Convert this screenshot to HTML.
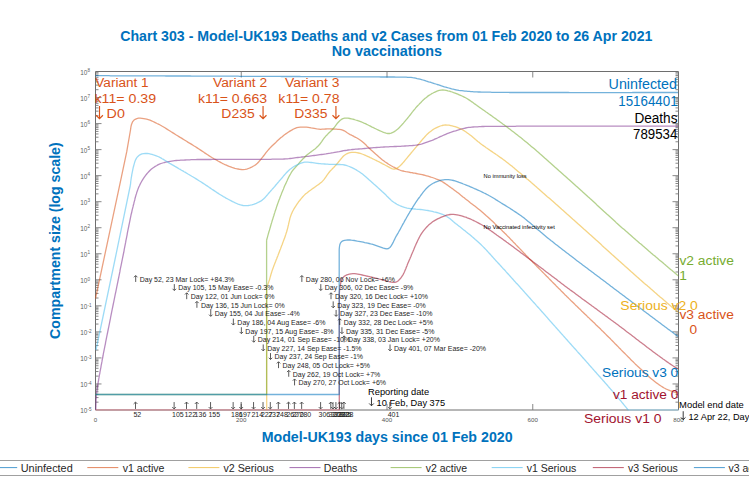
<!DOCTYPE html><html><head><meta charset="utf-8"><style>html,body{margin:0;padding:0;background:#fff;width:749px;height:478px;overflow:hidden}svg{display:block}text{font-family:"Liberation Sans",sans-serif}</style></head><body><svg width="749" height="478" viewBox="0 0 749 478"><text x="120.22" y="41.00" font-size="14.4" font-weight="bold" fill="#0072BD" textLength="532.17" lengthAdjust="spacingAndGlyphs">Chart 303 - Model-UK193 Deaths and v2 Cases from 01 Feb 2020 to 26 Apr 2021</text><text x="331.74" y="56.40" font-size="14.4" font-weight="bold" fill="#0072BD" textLength="110.35" lengthAdjust="spacingAndGlyphs">No vaccinations</text><text transform="rotate(-90)" x="-338.88" y="59.70" font-size="14.3" font-weight="bold" fill="#0072BD" textLength="196.59" lengthAdjust="spacingAndGlyphs">Compartment size (log scale)</text><text x="261.65" y="442.30" font-size="14.3" font-weight="bold" fill="#0072BD" textLength="250.93" lengthAdjust="spacingAndGlyphs">Model-UK193 days since 01 Feb 2020</text><path d="M95.5,71.5H678.5V410.0H95.5Z" fill="none" stroke="#6e6e6e" stroke-width="1"/><path d="M241.25,410.0v-6M241.25,71.5v6M387.00,410.0v-6M387.00,71.5v6M532.75,410.0v-6M532.75,71.5v6M95.5,402.16h3M678.5,402.16h-3M95.5,397.58h3M678.5,397.58h-3M95.5,394.32h3M678.5,394.32h-3M95.5,391.80h3M678.5,391.80h-3M95.5,389.74h3M678.5,389.74h-3M95.5,387.99h3M678.5,387.99h-3M95.5,386.48h3M678.5,386.48h-3M95.5,385.15h3M678.5,385.15h-3M95.5,383.96h6M678.5,383.96h-6M95.5,376.12h3M678.5,376.12h-3M95.5,371.54h3M678.5,371.54h-3M95.5,368.28h3M678.5,368.28h-3M95.5,365.76h3M678.5,365.76h-3M95.5,363.70h3M678.5,363.70h-3M95.5,361.96h3M678.5,361.96h-3M95.5,360.45h3M678.5,360.45h-3M95.5,359.11h3M678.5,359.11h-3M95.5,357.92h6M678.5,357.92h-6M95.5,350.08h3M678.5,350.08h-3M95.5,345.50h3M678.5,345.50h-3M95.5,342.25h3M678.5,342.25h-3M95.5,339.72h3M678.5,339.72h-3M95.5,337.66h3M678.5,337.66h-3M95.5,335.92h3M678.5,335.92h-3M95.5,334.41h3M678.5,334.41h-3M95.5,333.08h3M678.5,333.08h-3M95.5,331.88h6M678.5,331.88h-6M95.5,324.05h3M678.5,324.05h-3M95.5,319.46h3M678.5,319.46h-3M95.5,316.21h3M678.5,316.21h-3M95.5,313.68h3M678.5,313.68h-3M95.5,311.62h3M678.5,311.62h-3M95.5,309.88h3M678.5,309.88h-3M95.5,308.37h3M678.5,308.37h-3M95.5,307.04h3M678.5,307.04h-3M95.5,305.85h6M678.5,305.85h-6M95.5,298.01h3M678.5,298.01h-3M95.5,293.42h3M678.5,293.42h-3M95.5,290.17h3M678.5,290.17h-3M95.5,287.65h3M678.5,287.65h-3M95.5,285.58h3M678.5,285.58h-3M95.5,283.84h3M678.5,283.84h-3M95.5,282.33h3M678.5,282.33h-3M95.5,281.00h3M678.5,281.00h-3M95.5,279.81h6M678.5,279.81h-6M95.5,271.97h3M678.5,271.97h-3M95.5,267.38h3M678.5,267.38h-3M95.5,264.13h3M678.5,264.13h-3M95.5,261.61h3M678.5,261.61h-3M95.5,259.55h3M678.5,259.55h-3M95.5,257.80h3M678.5,257.80h-3M95.5,256.29h3M678.5,256.29h-3M95.5,254.96h3M678.5,254.96h-3M95.5,253.77h6M678.5,253.77h-6M95.5,245.93h3M678.5,245.93h-3M95.5,241.35h3M678.5,241.35h-3M95.5,238.09h3M678.5,238.09h-3M95.5,235.57h3M678.5,235.57h-3M95.5,233.51h3M678.5,233.51h-3M95.5,231.76h3M678.5,231.76h-3M95.5,230.25h3M678.5,230.25h-3M95.5,228.92h3M678.5,228.92h-3M95.5,227.73h6M678.5,227.73h-6M95.5,219.89h3M678.5,219.89h-3M95.5,215.31h3M678.5,215.31h-3M95.5,212.05h3M678.5,212.05h-3M95.5,209.53h3M678.5,209.53h-3M95.5,207.47h3M678.5,207.47h-3M95.5,205.73h3M678.5,205.73h-3M95.5,204.22h3M678.5,204.22h-3M95.5,202.88h3M678.5,202.88h-3M95.5,201.69h6M678.5,201.69h-6M95.5,193.85h3M678.5,193.85h-3M95.5,189.27h3M678.5,189.27h-3M95.5,186.02h3M678.5,186.02h-3M95.5,183.49h3M678.5,183.49h-3M95.5,181.43h3M678.5,181.43h-3M95.5,179.69h3M678.5,179.69h-3M95.5,178.18h3M678.5,178.18h-3M95.5,176.85h3M678.5,176.85h-3M95.5,175.65h6M678.5,175.65h-6M95.5,167.82h3M678.5,167.82h-3M95.5,163.23h3M678.5,163.23h-3M95.5,159.98h3M678.5,159.98h-3M95.5,157.45h3M678.5,157.45h-3M95.5,155.39h3M678.5,155.39h-3M95.5,153.65h3M678.5,153.65h-3M95.5,152.14h3M678.5,152.14h-3M95.5,150.81h3M678.5,150.81h-3M95.5,149.62h6M678.5,149.62h-6M95.5,141.78h3M678.5,141.78h-3M95.5,137.19h3M678.5,137.19h-3M95.5,133.94h3M678.5,133.94h-3M95.5,131.42h3M678.5,131.42h-3M95.5,129.35h3M678.5,129.35h-3M95.5,127.61h3M678.5,127.61h-3M95.5,126.10h3M678.5,126.10h-3M95.5,124.77h3M678.5,124.77h-3M95.5,123.58h6M678.5,123.58h-6M95.5,115.74h3M678.5,115.74h-3M95.5,111.15h3M678.5,111.15h-3M95.5,107.90h3M678.5,107.90h-3M95.5,105.38h3M678.5,105.38h-3M95.5,103.32h3M678.5,103.32h-3M95.5,101.57h3M678.5,101.57h-3M95.5,100.06h3M678.5,100.06h-3M95.5,98.73h3M678.5,98.73h-3M95.5,97.54h6M678.5,97.54h-6M95.5,89.70h3M678.5,89.70h-3M95.5,85.11h3M678.5,85.11h-3M95.5,81.86h3M678.5,81.86h-3M95.5,79.34h3M678.5,79.34h-3M95.5,77.28h3M678.5,77.28h-3M95.5,75.53h3M678.5,75.53h-3M95.5,74.02h3M678.5,74.02h-3M95.5,72.69h3M678.5,72.69h-3" fill="none" stroke="#7a7a7a" stroke-width="0.9"/><text x="95.50" y="422" text-anchor="middle" font-size="6.2" fill="#555">0</text><text x="241.25" y="422" text-anchor="middle" font-size="6.2" fill="#555">200</text><text x="387.00" y="422" text-anchor="middle" font-size="6.2" fill="#555">400</text><text x="532.75" y="422" text-anchor="middle" font-size="6.2" fill="#555">600</text><text x="678.50" y="422" text-anchor="middle" font-size="6.2" fill="#555">800</text><text x="87.3" y="413.40" text-anchor="end" font-size="6.4" fill="#606060">10</text><text x="87.6" y="410.70" font-size="4.6" fill="#606060">-5</text><text x="87.3" y="387.36" text-anchor="end" font-size="6.4" fill="#606060">10</text><text x="87.6" y="384.66" font-size="4.6" fill="#606060">-4</text><text x="87.3" y="361.32" text-anchor="end" font-size="6.4" fill="#606060">10</text><text x="87.6" y="358.62" font-size="4.6" fill="#606060">-3</text><text x="87.3" y="335.28" text-anchor="end" font-size="6.4" fill="#606060">10</text><text x="87.6" y="332.58" font-size="4.6" fill="#606060">-2</text><text x="87.3" y="309.25" text-anchor="end" font-size="6.4" fill="#606060">10</text><text x="87.6" y="306.55" font-size="4.6" fill="#606060">-1</text><text x="87.3" y="283.21" text-anchor="end" font-size="6.4" fill="#606060">10</text><text x="87.6" y="280.51" font-size="4.6" fill="#606060">0</text><text x="87.3" y="257.17" text-anchor="end" font-size="6.4" fill="#606060">10</text><text x="87.6" y="254.47" font-size="4.6" fill="#606060">1</text><text x="87.3" y="231.13" text-anchor="end" font-size="6.4" fill="#606060">10</text><text x="87.6" y="228.43" font-size="4.6" fill="#606060">2</text><text x="87.3" y="205.09" text-anchor="end" font-size="6.4" fill="#606060">10</text><text x="87.6" y="202.39" font-size="4.6" fill="#606060">3</text><text x="87.3" y="179.05" text-anchor="end" font-size="6.4" fill="#606060">10</text><text x="87.6" y="176.35" font-size="4.6" fill="#606060">4</text><text x="87.3" y="153.02" text-anchor="end" font-size="6.4" fill="#606060">10</text><text x="87.6" y="150.32" font-size="4.6" fill="#606060">5</text><text x="87.3" y="126.98" text-anchor="end" font-size="6.4" fill="#606060">10</text><text x="87.6" y="124.28" font-size="4.6" fill="#606060">6</text><text x="87.3" y="100.94" text-anchor="end" font-size="6.4" fill="#606060">10</text><text x="87.6" y="98.24" font-size="4.6" fill="#606060">7</text><text x="87.3" y="74.90" text-anchor="end" font-size="6.4" fill="#606060">10</text><text x="87.6" y="72.20" font-size="4.6" fill="#606060">8</text><defs><clipPath id="pc"><rect x="95" y="71" width="584" height="339.5"/></clipPath></defs><g clip-path="url(#pc)"><path d="M95.5,75.7 L97.0,75.7 L98.5,75.7 L100.0,75.7 L101.5,75.7 L103.0,75.7 L104.5,75.7 L106.0,75.7 L107.5,75.7 L109.0,75.7 L110.5,75.8 L112.0,75.8 L113.5,75.8 L115.0,75.8 L116.5,75.8 L118.0,75.8 L119.5,75.8 L121.0,75.8 L122.5,75.8 L124.0,75.8 L125.5,75.8 L127.0,75.8 L128.5,75.8 L130.0,75.8 L131.5,75.8 L133.0,75.8 L134.5,75.8 L136.0,75.8 L137.5,75.8 L139.0,75.9 L140.5,75.9 L142.0,75.9 L143.5,75.9 L145.0,75.9 L146.5,75.9 L148.0,75.9 L149.5,75.9 L151.0,75.9 L152.5,75.9 L154.0,75.9 L155.5,75.9 L157.0,75.9 L158.5,75.9 L160.0,75.9 L161.5,75.9 L163.0,75.9 L164.5,75.9 L166.0,76.0 L167.5,76.0 L169.0,76.0 L170.5,76.0 L172.0,76.0 L173.5,76.0 L175.0,76.0 L176.6,76.0 L178.1,76.0 L179.6,76.0 L181.1,76.0 L182.6,76.0 L184.1,76.0 L185.6,76.0 L187.1,76.0 L188.6,76.0 L190.1,76.0 L191.6,76.1 L193.1,76.1 L194.6,76.1 L196.1,76.1 L197.6,76.1 L199.1,76.1 L200.6,76.1 L202.1,76.1 L203.6,76.1 L205.1,76.1 L206.6,76.1 L208.1,76.1 L209.6,76.1 L211.1,76.1 L212.6,76.1 L214.1,76.1 L215.6,76.1 L217.1,76.2 L218.6,76.2 L220.1,76.2 L221.6,76.2 L223.1,76.2 L224.6,76.2 L226.1,76.2 L227.6,76.2 L229.1,76.2 L230.6,76.2 L232.1,76.2 L233.6,76.2 L235.1,76.2 L236.6,76.2 L238.1,76.2 L239.6,76.3 L241.1,76.3 L242.6,76.3 L244.1,76.3 L245.6,76.3 L247.1,76.3 L248.6,76.3 L250.1,76.3 L251.6,76.3 L253.1,76.3 L254.6,76.3 L256.1,76.3 L257.6,76.3 L259.1,76.3 L260.6,76.3 L262.1,76.4 L263.6,76.4 L265.1,76.4 L266.6,76.4 L268.1,76.4 L269.6,76.4 L271.1,76.4 L272.6,76.4 L274.1,76.4 L275.6,76.4 L277.1,76.4 L278.6,76.4 L280.1,76.4 L281.6,76.5 L283.1,76.5 L284.6,76.5 L286.1,76.5 L287.6,76.5 L289.1,76.5 L290.6,76.5 L292.1,76.5 L293.6,76.5 L295.1,76.5 L296.6,76.5 L298.1,76.5 L299.6,76.5 L301.1,76.6 L302.6,76.6 L304.1,76.6 L305.6,76.6 L307.1,76.6 L308.6,76.6 L310.1,76.6 L311.6,76.6 L313.1,76.6 L314.6,76.6 L316.1,76.6 L317.6,76.6 L319.1,76.7 L320.6,76.7 L322.1,76.7 L323.6,76.7 L325.1,76.7 L326.6,76.7 L328.1,76.7 L329.6,76.7 L331.1,76.7 L332.6,76.7 L334.1,76.7 L335.6,76.7 L337.1,76.8 L338.7,76.8 L340.2,76.8 L341.7,76.8 L343.2,76.8 L344.7,76.8 L346.2,76.8 L347.7,76.8 L349.2,76.8 L350.7,76.8 L352.2,76.8 L353.7,76.8 L355.2,76.9 L356.7,76.9 L358.2,76.9 L359.7,76.9 L361.2,76.9 L362.7,76.9 L364.2,76.9 L365.7,76.9 L367.2,76.9 L368.7,76.9 L370.2,76.9 L371.7,76.9 L373.2,76.9 L374.7,76.9 L376.2,76.9 L377.7,76.9 L379.2,76.9 L380.7,77.0 L382.2,77.0 L383.7,77.0 L385.2,77.0 L386.7,77.0 L388.2,77.0 L389.7,77.0 L391.2,77.0 L392.7,77.0 L394.2,77.0 L395.7,77.1 L397.2,77.1 L398.7,77.1 L400.2,77.1 L401.7,77.1 L403.2,77.2 L404.7,77.2 L406.2,77.2 L407.7,77.3 L409.2,77.3 L410.9,77.4 L412.7,77.7 L414.1,77.9 L415.6,78.2 L417.1,78.6 L418.5,78.9 L420.0,79.2 L421.5,79.6 L422.9,80.0 L424.3,80.4 L425.8,80.9 L427.2,81.3 L428.6,81.8 L430.1,82.2 L431.5,82.7 L432.9,83.1 L434.4,83.6 L435.8,84.0 L437.2,84.5 L438.7,84.9 L440.1,85.4 L441.5,85.9 L442.9,86.3 L444.4,86.8 L445.8,87.2 L447.3,87.6 L448.7,88.0 L450.2,88.4 L451.6,88.8 L453.1,89.1 L454.5,89.5 L456.0,89.8 L457.5,90.1 L458.9,90.4 L460.4,90.6 L461.9,90.7 L463.4,90.9 L464.9,91.1 L466.4,91.2 L467.9,91.3 L469.4,91.4 L470.9,91.6 L472.4,91.7 L473.9,91.8 L475.4,91.8 L476.9,91.9 L478.4,92.0 L479.9,92.0 L481.4,92.1 L482.9,92.1 L484.4,92.1 L485.9,92.2 L487.4,92.2 L488.9,92.2 L490.4,92.2 L491.9,92.3 L493.4,92.3 L494.9,92.3 L496.4,92.3 L497.9,92.3 L499.4,92.4 L500.9,92.4 L502.4,92.4 L503.9,92.4 L505.4,92.4 L506.9,92.4 L508.4,92.4 L509.9,92.5 L511.4,92.5 L512.9,92.5 L514.4,92.5 L515.9,92.5 L517.4,92.5 L518.9,92.5 L520.4,92.5 L521.9,92.5 L523.4,92.5 L524.9,92.5 L526.4,92.5 L527.9,92.5 L529.4,92.5 L530.9,92.5 L532.4,92.5 L533.9,92.5 L535.4,92.5 L536.9,92.5 L538.4,92.5 L539.9,92.5 L541.4,92.5 L542.9,92.5 L544.4,92.5 L545.9,92.5 L547.4,92.5 L548.9,92.5 L550.4,92.5 L551.9,92.5 L553.4,92.5 L554.9,92.5 L556.4,92.5 L557.9,92.5 L559.4,92.5 L560.9,92.5 L562.4,92.5 L563.9,92.5 L565.4,92.5 L566.9,92.5 L568.4,92.5 L569.9,92.6 L571.4,92.6 L572.9,92.6 L574.4,92.6 L575.9,92.6 L577.4,92.6 L578.9,92.6 L580.4,92.6 L581.9,92.6 L583.4,92.6 L584.9,92.6 L586.4,92.6 L587.9,92.6 L589.4,92.6 L590.9,92.6 L592.4,92.6 L593.9,92.6 L595.4,92.6 L596.9,92.6 L598.5,92.6 L600.0,92.6 L601.5,92.6 L603.0,92.6 L604.5,92.6 L606.0,92.6 L607.5,92.6 L609.0,92.6 L610.5,92.6 L612.0,92.6 L613.5,92.6 L615.0,92.6 L616.5,92.6 L618.0,92.6 L619.5,92.6 L621.0,92.6 L622.5,92.6 L624.0,92.6 L625.5,92.6 L627.0,92.6 L628.5,92.6 L630.0,92.6 L631.5,92.6 L633.0,92.5 L634.5,92.5 L636.0,92.5 L637.5,92.5 L639.0,92.5 L640.5,92.5 L642.0,92.5 L643.5,92.5 L645.0,92.5 L646.5,92.5 L648.0,92.5 L649.5,92.5 L651.0,92.5 L652.5,92.5 L654.0,92.5 L655.5,92.5 L657.0,92.5 L658.5,92.5 L660.0,92.5 L661.5,92.5 L663.0,92.5 L664.5,92.5 L666.0,92.5 L667.5,92.5 L669.0,92.5 L670.5,92.5 L672.0,92.5 L673.5,92.5 L675.0,92.5 L676.5,92.5 L678.0,92.5 L678.0,92.5" fill="none" stroke="#0072BD" stroke-width="1.3" stroke-opacity="0.55" stroke-linejoin="round"/><path d="M95.5,298.5 L120.0,183.7 L126.7,151.9 L130.5,130.0M130.5,130.0 L130.7,128.3 L131.0,126.5 L131.4,124.8 L132.0,123.2 L132.7,121.6 L133.8,120.3 L135.2,119.3 L136.8,118.6 L138.5,118.2 L140.2,118.2 L142.0,118.3 L143.7,118.6 L145.2,118.9 L146.6,119.2 L148.3,119.7 L150.0,120.2 L151.6,120.9 L153.0,121.5 L154.3,122.1 L155.7,122.8 L157.0,123.5 L158.4,124.1 L159.7,124.8 L161.0,125.5 L162.3,126.3 L163.6,127.0 L164.9,127.8 L166.2,128.6 L167.4,129.4 L168.7,130.2 L170.0,131.0 L171.2,131.8 L172.5,132.6 L173.8,133.4 L175.1,134.2 L176.3,135.0 L177.6,135.8 L178.9,136.6 L180.2,137.4 L181.5,138.1 L182.7,138.9 L184.0,139.7 L185.3,140.5 L186.6,141.3 L187.8,142.1 L189.1,142.9 L190.4,143.6 L191.7,144.4 L193.0,145.2 L194.2,146.0 L195.5,146.8 L196.8,147.6 L198.0,148.4 L199.3,149.2 L200.6,150.1 L201.8,150.9 L203.1,151.7 L204.3,152.6 L205.5,153.4 L206.8,154.2 L208.0,155.0 L209.3,155.9 L210.6,156.7 L211.9,157.5 L213.1,158.2 L214.4,159.0 L215.8,159.7 L217.1,160.4 L218.4,161.2 L219.7,161.9 L221.0,162.6 L222.3,163.3 L223.7,164.0 L225.0,164.6 L226.4,165.2 L227.8,165.8 L229.2,166.4 L230.6,166.9 L232.0,167.4 L233.4,167.8 L234.9,168.3 L236.3,168.7 L238.0,169.0 L239.8,169.3 L241.5,169.5 L243.2,169.6 L245.0,169.4 L246.7,169.1 L248.4,168.5 L250.0,167.9 L251.6,167.2 L253.1,166.3 L254.6,165.5 L256.0,164.4 L257.4,163.3 L258.6,162.0 L259.7,160.7 L260.7,159.6 L261.6,158.4 L262.6,157.2 L263.5,156.0 L264.4,154.8 L265.3,153.6 L266.2,152.4 L267.1,151.3 L268.1,150.1 L269.1,149.0 L270.1,147.9 L271.2,146.8 L272.2,145.8 L273.3,144.7 L274.4,143.7 L275.5,142.7 L276.6,141.6 L277.7,140.6 L278.8,139.6 L279.9,138.6 L281.0,137.6 L282.2,136.7 L283.3,135.7 L284.5,134.8 L285.7,133.9 L287.0,133.1 L288.2,132.2 L289.5,131.4 L290.8,130.6 L292.1,129.9 L293.6,129.0 L295.2,128.3 L296.8,127.7 L298.5,127.4 L300.3,127.2 L301.8,127.2 L303.3,127.1 L304.8,127.2 L306.5,127.2 L308.3,127.4 L309.7,127.6 L311.2,127.9 L312.7,128.1 L314.2,128.4 L315.7,128.7 L317.1,128.9 L318.9,129.1 L320.6,129.3 L322.4,129.2 L324.1,129.1 L325.6,129.0 L327.3,128.9 L328.8,128.9 L330.3,128.9 L331.8,129.0 L333.3,129.0 L334.8,129.1 L336.3,129.2 L337.8,129.3 L339.3,129.4 L341.1,129.6 L342.7,130.1 L344.3,130.8 L345.8,131.8 L347.2,132.8 L348.7,133.7 L350.2,134.6 L351.6,135.2 L352.9,135.9 L354.2,136.6 L355.6,137.3 L356.9,138.0 L358.2,138.8 L359.7,139.7 L361.1,140.7 L362.4,141.8 L363.6,142.8 L364.7,143.8 L365.8,144.8 L366.8,145.9 L367.9,146.9 L369.0,148.0 L370.1,149.0 L371.1,150.1 L372.3,151.1 L373.4,152.1 L374.5,153.1 L375.6,154.1 L376.8,155.1 L377.9,156.0 L379.0,157.0 L380.2,158.0 L381.3,158.9 L382.5,159.9 L383.7,160.8 L384.9,161.7 L386.1,162.5 L387.4,163.4 L388.6,164.2 L389.9,165.0 L391.2,165.8 L392.5,166.5 L393.8,167.2 L395.2,167.9 L396.5,168.6 L398.1,169.3 L399.7,170.0 L401.3,170.6 L403.0,171.0 L404.5,171.4 L406.0,171.7 L407.4,171.9 L408.9,172.2 L410.4,172.5 L411.9,172.7 L413.3,173.0 L414.8,173.2 L416.3,173.5 L417.8,173.8 L419.2,174.1 L420.7,174.4 L422.2,174.7 L423.6,175.0 L425.1,175.4 L426.5,175.8 L428.0,176.2 L429.4,176.6 L430.9,177.1 L432.3,177.5 L433.7,178.0 L435.1,178.5 L436.5,179.1 L437.9,179.6 L439.3,180.2 L440.9,181.0 L442.4,181.8 L443.7,182.6 L444.9,183.4 L446.2,184.3 L447.4,185.1 L448.6,186.0 L449.9,186.9 L451.1,187.8 L452.3,188.6 L453.5,189.5 L454.7,190.4 L455.9,191.3 L457.1,192.2 L458.3,193.1 L459.5,194.1 L460.6,195.0 L461.8,195.9 L463.0,196.9 L464.2,197.8 L465.3,198.8 L466.5,199.7 L467.7,200.6 L468.9,201.5 L470.0,202.5 L471.2,203.4 L472.4,204.3 L473.6,205.2 L474.8,206.1 L476.0,207.0 L477.2,207.9 L478.4,208.9 L479.5,209.8 L480.7,210.8 L481.8,211.7 L483.0,212.7 L484.1,213.7 L485.2,214.7 L486.3,215.7 L487.5,216.7 L488.6,217.7 L489.7,218.7 L490.8,219.8 L491.9,220.8 L493.0,221.8 L494.0,222.8 L495.1,223.9 L496.2,224.9 L497.3,225.9 L498.4,227.0 L499.5,228.0 L500.5,229.1 L501.6,230.1 L502.7,231.2 L503.8,232.2 L504.8,233.3 L505.9,234.3 L506.9,235.4 L508.0,236.5 L509.1,237.5 L510.1,238.6 L511.1,239.7 L512.2,240.8 L513.2,241.9 L514.3,242.9 L515.3,244.0 L516.3,245.1 L517.4,246.2 L518.4,247.3 L519.5,248.4 L520.5,249.4 L521.5,250.5 L522.6,251.6 L523.6,252.7 L524.7,253.8 L525.7,254.9 L526.7,255.9 L527.8,257.0 L528.8,258.1 L529.9,259.2 L530.9,260.2 L532.0,261.3 L533.0,262.4 L534.1,263.4 L535.1,264.5 L536.2,265.6 L537.2,266.7 L538.3,267.7 L539.3,268.8 L540.4,269.9 L541.4,270.9 L542.5,272.0 L543.6,273.1 L544.6,274.1 L545.7,275.2 L546.7,276.3 L547.8,277.3 L548.8,278.4 L549.9,279.5 L550.9,280.5 L552.0,281.6 L553.1,282.7 L554.1,283.7 L555.2,284.8 L556.2,285.9 L557.3,286.9 L558.3,288.0 L559.4,289.1 L560.5,290.1 L561.5,291.2 L562.6,292.2 L563.6,293.3 L564.7,294.4 L565.8,295.4 L566.8,296.5 L567.9,297.5 L569.0,298.6 L570.0,299.6 L571.1,300.7 L572.2,301.7 L573.3,302.8 L574.3,303.8 L575.4,304.9 L576.5,305.9 L577.6,307.0 L578.6,308.0 L579.7,309.1 L580.8,310.1 L581.9,311.2 L583.0,312.2 L584.0,313.2 L585.1,314.3 L586.2,315.3 L587.3,316.4 L588.4,317.4 L589.4,318.4 L590.5,319.5 L591.6,320.5 L592.7,321.5 L593.8,322.6 L594.9,323.6 L595.9,324.7 L597.0,325.7 L598.1,326.8 L599.2,327.8 L600.3,328.8 L601.3,329.9 L602.4,330.9 L603.5,332.0 L604.5,333.0 L605.6,334.1 L606.7,335.2 L607.7,336.2 L608.8,337.3 L609.9,338.3 L610.9,339.4 L612.0,340.5 L613.0,341.5 L614.1,342.6 L615.1,343.7 L616.2,344.7 L617.2,345.8 L618.3,346.9 L619.3,348.0 L620.4,349.0 L621.4,350.1 L622.5,351.2 L623.5,352.2 L624.6,353.3 L625.7,354.4 L626.7,355.4 L627.8,356.5 L628.8,357.6 L629.9,358.6 L630.9,359.7 L632.0,360.8 L633.1,361.8 L634.2,362.9 L635.2,363.9 L636.3,364.9 L637.4,366.0 L638.5,367.0 L639.6,368.0 L640.7,369.1 L641.8,370.1 L642.9,371.1 L644.0,372.1 L645.1,373.2 L646.2,374.2 L647.3,375.2 L648.4,376.2 L649.5,377.2 L650.6,378.2 L651.8,379.2 L652.9,380.1 L654.1,381.1 L655.3,382.0 L656.5,382.9 L657.7,383.7 L658.9,384.6 L660.2,385.5 L661.4,386.3 L662.7,387.1 L664.2,388.0 L665.7,388.8 L667.3,389.5 L668.7,390.1 L670.1,390.7 L671.5,391.2 L672.9,391.7 L674.4,392.1 L676.0,392.6 L677.8,392.9 L678.0,393.0" fill="none" stroke="#D95319" stroke-width="1.3" stroke-opacity="0.55" stroke-linejoin="round"/><path d="M266.7,410.5 L266.7,287.0M266.7,287.0 L267.3,285.6 L267.9,284.2 L268.4,282.8 L268.9,281.4 L269.4,280.0 L269.8,278.6 L270.2,277.1 L270.6,275.7 L271.0,274.2 L271.5,272.8 L271.9,271.3 L272.4,269.9 L272.9,268.5 L273.4,267.1 L273.9,265.7 L274.5,264.3 L275.0,262.9 L275.6,261.5 L276.1,260.1 L276.7,258.7 L277.2,257.3 L277.8,255.9 L278.3,254.5 L278.9,253.1 L279.4,251.7 L279.9,250.3 L280.5,248.9 L281.0,247.5 L281.5,246.1 L282.1,244.7 L282.6,243.3 L283.1,241.9 L283.6,240.5 L284.2,239.1 L284.7,237.7 L285.2,236.2 L285.7,234.8 L286.1,233.4 L286.6,232.0 L287.0,230.5 L287.4,229.1 L287.8,227.6 L288.1,226.2 L288.5,224.7 L288.8,223.2 L289.1,221.8 L289.5,220.3 L289.8,218.9 L290.2,217.4 L290.7,216.0 L291.2,214.6 L291.8,213.2 L292.4,211.8 L293.1,210.5 L293.8,209.2 L294.6,207.9 L295.4,206.6 L296.2,205.4 L297.0,204.1 L297.9,202.9 L298.7,201.7 L299.7,200.5 L300.6,199.3 L301.6,198.1 L302.6,197.0 L303.6,195.9 L304.6,194.9 L305.7,193.8 L306.9,192.9 L308.1,191.9 L309.3,191.0 L310.5,190.2 L311.7,189.3 L312.9,188.4 L314.2,187.6 L315.4,186.7 L316.6,185.8 L317.8,185.0 L319.1,184.1 L320.4,183.0 L321.8,181.9 L323.0,180.6 L324.1,179.3 L325.0,178.1 L325.9,176.9 L326.7,175.6 L327.6,174.4 L328.5,173.2 L329.4,172.0 L330.5,170.7 L331.6,169.6 L332.6,168.5 L333.7,167.5 L334.7,166.4 L335.7,165.3 L336.7,164.1 L337.7,163.0 L338.6,161.8 L339.6,160.7 L340.5,159.5 L341.5,158.3 L342.6,157.0 L343.8,155.7 L345.2,154.7 L346.7,153.8 L348.3,153.1 L350.0,152.6 L351.7,152.3 L353.4,152.3 L355.2,152.4 L356.9,152.6 L358.6,153.0 L360.3,153.4 L362.0,154.0 L363.4,154.5 L364.8,155.1 L366.1,155.7 L367.5,156.3 L368.9,156.9 L370.2,157.6 L371.6,158.2 L372.9,158.9 L374.3,159.5 L375.6,160.2 L377.0,160.9 L378.3,161.5 L379.7,162.2 L381.0,162.9 L382.3,163.6 L383.7,164.3 L385.0,165.0 L386.3,165.7 L387.6,166.4 L388.9,167.1 L390.3,167.9 L391.8,168.6 L393.5,169.1 L395.2,169.0 L396.8,168.4 L398.2,167.4 L399.6,166.3 L400.9,165.1 L401.9,164.0 L402.9,162.9 L403.9,161.8 L404.8,160.6 L405.8,159.4 L406.7,158.3 L407.7,157.1 L408.6,156.0 L409.6,154.8 L410.6,153.7 L411.5,152.5 L412.5,151.4 L413.5,150.2 L414.4,149.1 L415.4,147.9 L416.3,146.8 L417.3,145.6 L418.3,144.5 L419.3,143.3 L420.2,142.2 L421.2,141.0 L422.1,139.9 L423.1,138.7 L424.1,137.6 L425.1,136.5 L426.1,135.4 L427.2,134.3 L428.3,133.3 L429.4,132.3 L430.6,131.4 L431.8,130.5 L433.0,129.6 L434.3,128.8 L435.6,128.1 L437.2,127.3 L438.8,126.6 L440.4,126.0 L442.1,125.5 L443.8,125.2 L445.5,125.0 L447.3,125.1 L449.0,125.2 L450.8,125.6 L452.2,125.9 L453.7,126.3 L455.1,126.7 L456.5,127.2 L457.9,127.7 L459.3,128.3 L460.7,128.9 L462.0,129.5 L463.6,130.4 L464.9,131.2 L466.1,132.0 L467.3,132.9 L468.5,133.8 L469.7,134.7 L470.9,135.6 L472.1,136.6 L473.2,137.5 L474.4,138.5 L475.5,139.5 L476.7,140.4 L477.8,141.4 L479.0,142.3 L480.1,143.3 L481.3,144.2 L482.5,145.1 L483.8,145.9 L485.0,146.8 L486.2,147.7 L487.5,148.5 L488.7,149.4 L489.9,150.2 L491.2,151.1 L492.4,151.9 L493.6,152.8 L494.9,153.6 L496.1,154.5 L497.4,155.3 L498.6,156.2 L499.8,157.1 L501.0,157.9 L502.3,158.8 L503.5,159.7 L504.7,160.6 L505.9,161.5 L507.1,162.4 L508.2,163.3 L509.4,164.3 L510.6,165.2 L511.8,166.1 L512.9,167.1 L514.1,168.0 L515.2,169.0 L516.4,170.0 L517.5,170.9 L518.7,171.9 L519.8,172.8 L521.0,173.8 L522.1,174.8 L523.3,175.8 L524.4,176.7 L525.6,177.7 L526.7,178.7 L527.9,179.6 L529.0,180.6 L530.2,181.6 L531.3,182.6 L532.4,183.5 L533.6,184.5 L534.7,185.5 L535.9,186.5 L537.0,187.5 L538.1,188.4 L539.3,189.4 L540.4,190.4 L541.5,191.4 L542.6,192.4 L543.8,193.4 L544.9,194.4 L546.0,195.4 L547.1,196.4 L548.3,197.4 L549.4,198.3 L550.5,199.3 L551.6,200.3 L552.8,201.3 L553.9,202.3 L555.0,203.3 L556.1,204.3 L557.3,205.3 L558.4,206.3 L559.5,207.3 L560.6,208.3 L561.7,209.3 L562.9,210.3 L564.0,211.3 L565.1,212.3 L566.2,213.3 L567.3,214.3 L568.5,215.3 L569.6,216.3 L570.7,217.3 L571.8,218.3 L572.9,219.3 L574.1,220.3 L575.2,221.3 L576.3,222.3 L577.4,223.3 L578.5,224.3 L579.7,225.3 L580.8,226.3 L581.9,227.3 L583.0,228.3 L584.1,229.3 L585.3,230.3 L586.4,231.3 L587.5,232.3 L588.6,233.3 L589.7,234.3 L590.9,235.3 L592.0,236.3 L593.1,237.3 L594.2,238.3 L595.3,239.3 L596.4,240.3 L597.6,241.3 L598.7,242.3 L599.8,243.3 L600.9,244.3 L602.0,245.4 L603.1,246.4 L604.2,247.4 L605.4,248.4 L606.5,249.4 L607.6,250.4 L608.7,251.4 L609.8,252.4 L610.9,253.4 L612.0,254.4 L613.2,255.4 L614.3,256.4 L615.4,257.4 L616.5,258.4 L617.6,259.4 L618.7,260.4 L619.9,261.4 L621.0,262.4 L622.1,263.4 L623.2,264.4 L624.3,265.5 L625.4,266.5 L626.6,267.5 L627.7,268.5 L628.8,269.5 L629.9,270.5 L631.0,271.5 L632.2,272.5 L633.3,273.4 L634.4,274.4 L635.5,275.4 L636.6,276.4 L637.8,277.4 L638.9,278.4 L640.0,279.4 L641.2,280.4 L642.3,281.4 L643.4,282.4 L644.5,283.4 L645.7,284.4 L646.8,285.3 L647.9,286.3 L649.1,287.3 L650.2,288.3 L651.3,289.3 L652.5,290.3 L653.6,291.3 L654.7,292.3 L655.9,293.2 L657.0,294.2 L658.1,295.2 L659.3,296.2 L660.4,297.2 L661.5,298.1 L662.7,299.1 L663.8,300.1 L665.0,301.1 L666.1,302.0 L667.2,303.0 L668.4,304.0 L669.5,305.0 L670.7,305.9 L671.8,306.9 L673.0,307.9 L674.1,308.8 L675.3,309.8 L676.5,310.7 L677.6,311.7 L678.0,312.0" fill="none" stroke="#EDB120" stroke-width="1.3" stroke-opacity="0.55" stroke-linejoin="round"/><path d="M95.8,410.0 L96.1,400.0M96.1,400.0 L96.2,398.5 L96.3,397.0 L96.4,395.5 L96.6,394.0 L96.7,392.5 L96.9,391.0 L97.1,389.5 L97.3,388.1 L97.5,386.6 L97.8,385.1 L98.0,383.6 L98.2,382.1 L98.5,380.6 L98.7,379.2 L99.0,377.7 L99.2,376.2 L99.5,374.7 L99.8,373.3 L100.0,371.8 L100.3,370.3 L100.6,368.8 L100.9,367.3 L101.1,365.9 L101.4,364.4 L101.7,362.9 L102.0,361.4 L102.2,360.0 L102.5,358.5 L102.8,357.0 L103.1,355.5 L103.3,354.1 L103.6,352.6 L103.9,351.1 L104.2,349.7 L104.5,348.2 L104.8,346.7 L105.1,345.2 L105.4,343.8 L105.6,342.3 L105.9,340.8 L106.2,339.3 L106.5,337.9 L106.8,336.4 L107.1,334.9 L107.4,333.5 L107.7,332.0 L108.0,330.5 L108.3,329.0 L108.6,327.6 L108.9,326.1 L109.2,324.6 L109.5,323.2 L109.8,321.7 L110.1,320.2 L110.4,318.7 L110.6,317.3 L110.9,315.8 L111.2,314.3 L111.5,312.9 L111.8,311.4 L112.1,309.9 L112.4,308.4 L112.7,307.0 L113.0,305.5 L113.3,304.0 L113.6,302.6 L113.9,301.1 L114.2,299.6 L114.5,298.1 L114.8,296.7 L115.1,295.2 L115.4,293.7 L115.7,292.3 L116.0,290.8 L116.3,289.3 L116.6,287.8 L116.9,286.4 L117.2,284.9 L117.5,283.4 L117.8,282.0 L118.1,280.5 L118.4,279.0 L118.7,277.5 L119.0,276.1 L119.3,274.6 L119.6,273.1 L119.9,271.7 L120.1,270.2 L120.4,268.7 L120.7,267.2 L121.0,265.8 L121.3,264.3 L121.6,262.8 L121.9,261.4 L122.2,259.9 L122.5,258.4 L122.8,256.9 L123.1,255.5 L123.4,254.0 L123.7,252.5 L124.0,251.1 L124.2,249.6 L124.5,248.1 L124.8,246.6 L125.1,245.2 L125.4,243.7 L125.7,242.2 L125.9,240.7 L126.2,239.3 L126.5,237.8 L126.8,236.3 L127.1,234.8 L127.3,233.4 L127.6,231.9 L127.9,230.4 L128.2,228.9 L128.5,227.5 L128.8,226.0 L129.1,224.5 L129.4,223.1 L129.7,221.6 L130.0,220.1 L130.3,218.6 L130.6,217.2 L130.9,215.7 L131.2,214.2 L131.6,212.8 L131.9,211.3 L132.2,209.9 L132.6,208.4 L133.0,206.9 L133.3,205.5 L133.7,204.0 L134.0,202.6 L134.4,201.1 L134.8,199.7 L135.1,198.2 L135.5,196.8 L135.9,195.3 L136.4,193.9 L136.8,192.4 L137.3,191.0 L137.8,189.6 L138.3,188.2 L138.9,186.8 L139.6,185.5 L140.2,184.1 L140.9,182.8 L141.6,181.5 L142.4,180.2 L143.2,178.9 L144.0,177.7 L144.9,176.4 L145.8,175.2 L146.7,174.0 L147.7,172.9 L148.7,171.8 L149.9,170.5 L151.2,169.3 L152.5,168.2 L154.0,167.2 L155.2,166.4 L156.5,165.7 L157.8,164.9 L159.4,164.2 L161.0,163.5 L162.7,163.0 L164.4,162.5 L165.8,162.2 L167.3,161.9 L168.8,161.6 L170.3,161.3 L171.7,161.1 L173.2,160.9 L174.7,160.7 L176.2,160.5 L177.7,160.4 L179.2,160.3 L180.7,160.2 L182.2,160.1 L183.7,160.1 L185.2,160.0 L186.7,159.9 L188.2,159.8 L189.7,159.8 L191.2,159.7 L192.7,159.6 L194.2,159.6 L195.7,159.6 L197.2,159.5 L198.7,159.5 L200.2,159.5 L201.7,159.5 L203.2,159.5 L204.7,159.5 L206.2,159.5 L207.7,159.5 L209.2,159.5 L210.7,159.5 L212.2,159.4 L213.7,159.4 L215.2,159.4 L216.7,159.4 L218.2,159.4 L219.7,159.4 L221.2,159.4 L222.7,159.4 L224.2,159.4 L225.7,159.4 L227.2,159.4 L228.7,159.4 L230.2,159.4 L231.7,159.4 L233.2,159.4 L234.7,159.4 L236.2,159.4 L237.7,159.4 L239.2,159.4 L240.7,159.4 L242.2,159.4 L243.7,159.3 L245.2,159.3 L246.7,159.3 L248.2,159.3 L249.7,159.3 L251.2,159.3 L252.7,159.3 L254.2,159.3 L255.7,159.3 L257.2,159.3 L258.7,159.3 L260.2,159.3 L261.7,159.3 L263.2,159.3 L264.7,159.3 L266.2,159.3 L267.7,159.3 L269.2,159.3 L270.7,159.3 L272.2,159.2 L273.7,159.2 L275.2,159.2 L276.7,159.2 L278.2,159.2 L279.7,159.2 L281.2,159.2 L282.7,159.1 L284.2,159.0 L285.7,158.9 L287.2,158.8 L288.7,158.7 L290.2,158.5 L291.7,158.3 L293.2,158.1 L294.7,157.9 L296.2,157.7 L297.7,157.5 L299.2,157.3 L300.6,157.2 L302.1,157.0 L303.6,156.8 L305.1,156.6 L306.6,156.4 L308.1,156.3 L309.6,156.1 L311.1,155.9 L312.6,155.7 L314.1,155.5 L315.5,155.3 L317.0,155.1 L318.5,154.9 L320.0,154.7 L321.5,154.5 L323.0,154.3 L324.5,154.1 L325.9,153.9 L327.4,153.6 L328.9,153.4 L330.4,153.2 L331.9,152.9 L333.4,152.7 L334.8,152.4 L336.3,152.1 L337.8,151.8 L339.3,151.6 L340.7,151.3 L342.2,151.0 L343.7,150.7 L345.2,150.5 L346.6,150.3 L348.1,150.0 L349.6,149.8 L351.1,149.7 L352.6,149.5 L354.1,149.4 L355.6,149.2 L357.1,149.1 L358.6,149.0 L360.1,148.9 L361.6,148.8 L363.1,148.6 L364.6,148.5 L366.1,148.4 L367.6,148.2 L369.0,148.1 L370.5,148.0 L372.0,147.9 L373.5,147.7 L375.0,147.6 L376.5,147.5 L378.0,147.4 L379.5,147.3 L381.0,147.2 L382.5,147.1 L384.0,147.0 L385.5,146.9 L387.0,146.9 L388.5,146.8 L390.0,146.7 L391.5,146.7 L393.0,146.6 L394.5,146.5 L396.0,146.5 L397.5,146.4 L399.0,146.3 L400.5,146.3 L402.0,146.2 L403.5,146.1 L405.0,146.0 L406.5,145.9 L408.0,145.8 L409.5,145.7 L411.0,145.6 L412.5,145.5 L414.0,145.3 L415.5,145.2 L417.0,145.0 L418.7,144.7 L420.4,144.4 L422.1,143.9 L423.5,143.4 L424.9,142.9 L426.3,142.4 L427.8,141.9 L429.2,141.4 L430.6,140.9 L432.0,140.4 L433.4,139.8 L434.7,139.2 L436.1,138.6 L437.5,138.0 L438.8,137.3 L440.2,136.7 L441.6,136.1 L442.9,135.5 L444.3,134.9 L445.7,134.3 L447.1,133.7 L448.5,133.2 L449.9,132.6 L451.3,132.2 L452.7,131.7 L454.2,131.2 L455.6,130.8 L457.0,130.3 L458.5,129.9 L459.9,129.4 L461.3,129.0 L462.8,128.6 L464.2,128.3 L465.7,128.0 L467.2,127.7 L468.7,127.4 L470.2,127.3 L471.7,127.1 L473.1,127.0 L474.6,126.9 L476.1,126.8 L477.6,126.8 L479.1,126.7 L480.6,126.6 L482.1,126.5 L483.6,126.5 L485.1,126.4 L486.6,126.4 L488.1,126.4 L489.6,126.3 L491.1,126.3 L492.6,126.3 L494.1,126.3 L495.6,126.3 L497.1,126.3 L498.6,126.3 L500.1,126.3 L501.6,126.3 L503.1,126.3 L504.6,126.3 L506.2,126.3 L507.7,126.3 L509.2,126.3 L510.7,126.3 L512.2,126.3 L513.7,126.3 L515.2,126.3 L516.7,126.2 L518.2,126.2 L519.7,126.2 L521.2,126.2 L522.7,126.2 L524.2,126.2 L525.7,126.2 L527.2,126.2 L528.7,126.2 L530.2,126.2 L531.7,126.2 L533.2,126.2 L534.7,126.2 L536.2,126.2 L537.7,126.2 L539.2,126.2 L540.7,126.2 L542.2,126.2 L543.7,126.2 L545.2,126.2 L546.7,126.2 L548.2,126.2 L549.7,126.2 L551.2,126.2 L552.7,126.2 L554.2,126.2 L555.7,126.2 L557.2,126.2 L558.7,126.2 L560.2,126.2 L561.7,126.2 L563.2,126.2 L564.7,126.2 L566.2,126.2 L567.7,126.2 L569.2,126.2 L570.7,126.2 L572.2,126.2 L573.7,126.2 L575.2,126.2 L576.7,126.2 L578.2,126.2 L579.7,126.2 L581.2,126.2 L582.7,126.2 L584.2,126.2 L585.7,126.2 L587.2,126.2 L588.7,126.2 L590.2,126.2 L591.7,126.2 L593.2,126.2 L594.7,126.2 L596.2,126.2 L597.7,126.2 L599.2,126.2 L600.7,126.2 L602.2,126.2 L603.7,126.2 L605.2,126.2 L606.7,126.2 L608.2,126.2 L609.7,126.2 L611.2,126.2 L612.7,126.2 L614.2,126.2 L615.7,126.2 L617.2,126.2 L618.7,126.2 L620.2,126.2 L621.7,126.2 L623.2,126.2 L624.7,126.2 L626.2,126.2 L627.7,126.2 L629.2,126.2 L630.7,126.2 L632.2,126.2 L633.7,126.2 L635.2,126.2 L636.7,126.2 L638.2,126.2 L639.7,126.2 L641.2,126.2 L642.7,126.2 L644.2,126.2 L645.7,126.2 L647.2,126.2 L648.7,126.2 L650.2,126.2 L651.7,126.2 L653.2,126.2 L654.7,126.2 L656.2,126.2 L657.7,126.2 L659.2,126.2 L660.7,126.2 L662.2,126.2 L663.7,126.2 L665.2,126.2 L666.7,126.2 L668.2,126.2 L669.7,126.2 L671.2,126.2 L672.7,126.2 L674.2,126.2 L675.7,126.2 L677.2,126.2 L678.0,126.2" fill="none" stroke="#7E2F8E" stroke-width="1.3" stroke-opacity="0.55" stroke-linejoin="round"/><path d="M95.5,394.5 L266.6,394.5 L266.6,240.2M266.6,240.2 L267.0,238.8 L267.4,237.3 L267.8,235.9 L268.2,234.4 L268.6,233.0 L269.0,231.5 L269.5,230.1 L269.9,228.6 L270.3,227.2 L270.7,225.8 L271.1,224.3 L271.6,222.9 L272.0,221.4 L272.4,220.0 L272.9,218.6 L273.3,217.1 L273.8,215.7 L274.2,214.3 L274.7,212.9 L275.1,211.4 L275.6,210.0 L276.1,208.6 L276.5,207.1 L277.0,205.7 L277.5,204.3 L278.0,202.9 L278.5,201.5 L279.0,200.1 L279.6,198.7 L280.1,197.3 L280.6,195.9 L281.2,194.5 L281.7,193.1 L282.3,191.7 L282.9,190.3 L283.5,188.9 L284.0,187.5 L284.6,186.1 L285.2,184.8 L285.9,183.4 L286.5,182.0 L287.1,180.7 L287.7,179.3 L288.4,177.9 L289.0,176.6 L289.7,175.3 L290.5,174.0 L291.2,172.7 L292.2,171.2 L293.2,169.8 L294.4,168.5 L295.4,167.3 L296.4,166.2 L297.4,165.1 L298.4,164.0 L299.3,162.9 L300.3,161.7 L301.3,160.6 L302.4,159.5 L303.4,158.4 L304.5,157.4 L305.5,156.3 L306.6,155.3 L307.8,154.3 L308.9,153.4 L310.1,152.5 L311.4,151.6 L312.6,150.7 L313.8,149.8 L315.0,148.9 L316.3,147.8 L317.6,146.6 L318.8,145.3 L319.9,144.0 L320.8,142.8 L321.7,141.6 L322.5,140.3 L323.4,139.1 L324.3,137.9 L325.4,136.6 L326.4,135.4 L327.5,134.4 L328.5,133.3 L329.6,132.3 L330.7,131.2 L331.8,130.2 L332.8,129.1 L334.0,127.8 L334.9,126.6 L335.8,125.4 L336.7,124.2 L337.6,123.0 L338.8,121.7 L340.0,120.5 L341.4,119.4 L342.9,118.6 L344.6,118.2 L346.3,118.1 L348.1,118.2 L349.8,118.5 L351.3,118.8 L352.7,119.1 L354.2,119.5 L355.6,120.0 L357.0,120.4 L358.5,120.9 L359.9,121.4 L361.3,121.9 L362.7,122.5 L364.0,123.1 L365.4,123.7 L366.8,124.4 L368.1,125.0 L369.4,125.7 L370.8,126.4 L372.1,127.1 L373.5,127.7 L374.8,128.4 L376.2,129.0 L377.5,129.7 L378.9,130.3 L380.2,130.9 L381.6,131.5 L383.0,132.1 L384.4,132.6 L386.1,133.1 L387.8,133.5 L389.5,133.5 L391.2,133.1 L392.8,132.4 L394.3,131.6 L395.6,130.7 L396.8,129.8 L398.1,128.7 L399.4,127.5 L400.4,126.4 L401.5,125.3 L402.4,124.2 L403.4,123.1 L404.4,121.9 L405.3,120.8 L406.3,119.6 L407.3,118.5 L408.2,117.3 L409.2,116.1 L410.1,115.0 L411.0,113.8 L411.9,112.6 L412.9,111.4 L413.8,110.2 L414.8,109.1 L415.7,107.9 L416.7,106.8 L417.7,105.7 L418.8,104.6 L419.8,103.5 L420.9,102.5 L421.9,101.4 L423.0,100.3 L424.1,99.3 L425.2,98.3 L426.4,97.4 L427.5,96.4 L429.0,95.4 L430.5,94.5 L431.7,93.7 L433.1,93.0 L434.4,92.3 L436.0,91.6 L437.6,90.9 L439.3,90.4 L441.0,90.1 L442.7,90.0 L444.5,90.1 L446.2,90.4 L447.9,90.8 L449.4,91.1 L450.8,91.6 L452.2,92.0 L453.6,92.6 L455.1,93.1 L456.4,93.6 L457.8,94.2 L459.2,94.8 L460.6,95.4 L462.0,96.0 L463.3,96.6 L464.7,97.3 L466.0,98.0 L467.3,98.8 L468.6,99.6 L469.8,100.4 L471.0,101.2 L472.3,102.1 L473.5,103.0 L474.7,103.9 L475.9,104.7 L477.1,105.6 L478.4,106.5 L479.6,107.4 L480.8,108.2 L482.0,109.1 L483.3,110.0 L484.5,110.8 L485.7,111.7 L487.0,112.5 L488.2,113.4 L489.4,114.3 L490.6,115.1 L491.9,116.0 L493.1,116.9 L494.3,117.8 L495.5,118.6 L496.7,119.5 L497.9,120.4 L499.2,121.3 L500.4,122.2 L501.6,123.1 L502.8,124.0 L504.0,124.8 L505.2,125.7 L506.4,126.6 L507.6,127.5 L508.8,128.4 L510.0,129.3 L511.2,130.3 L512.4,131.2 L513.6,132.1 L514.8,133.0 L516.0,133.9 L517.1,134.8 L518.3,135.8 L519.5,136.7 L520.7,137.6 L521.9,138.5 L523.0,139.5 L524.2,140.4 L525.4,141.4 L526.5,142.3 L527.7,143.3 L528.8,144.3 L530.0,145.2 L531.1,146.2 L532.3,147.2 L533.4,148.1 L534.6,149.1 L535.7,150.1 L536.8,151.1 L538.0,152.0 L539.1,153.0 L540.2,154.0 L541.4,155.0 L542.5,156.0 L543.6,157.0 L544.7,158.0 L545.9,159.0 L547.0,160.0 L548.1,161.0 L549.2,162.0 L550.4,163.0 L551.5,163.9 L552.6,164.9 L553.7,165.9 L554.8,166.9 L556.0,167.9 L557.1,168.9 L558.2,169.9 L559.3,170.9 L560.5,171.9 L561.6,172.9 L562.7,173.9 L563.8,174.9 L565.0,175.9 L566.1,176.9 L567.2,177.9 L568.3,178.9 L569.5,179.9 L570.6,180.9 L571.7,181.9 L572.8,182.9 L573.9,183.9 L575.0,184.9 L576.1,185.9 L577.3,186.9 L578.4,187.9 L579.5,188.9 L580.6,189.9 L581.7,190.9 L582.8,192.0 L583.9,193.0 L585.0,194.0 L586.1,195.0 L587.2,196.0 L588.3,197.0 L589.5,198.0 L590.6,199.1 L591.7,200.1 L592.8,201.1 L593.9,202.1 L595.0,203.1 L596.1,204.1 L597.2,205.2 L598.3,206.2 L599.4,207.2 L600.5,208.2 L601.6,209.2 L602.7,210.2 L603.8,211.3 L604.9,212.3 L606.0,213.3 L607.1,214.3 L608.3,215.3 L609.4,216.3 L610.5,217.3 L611.6,218.3 L612.7,219.3 L613.8,220.3 L614.9,221.3 L616.0,222.4 L617.2,223.4 L618.3,224.4 L619.4,225.4 L620.5,226.4 L621.6,227.4 L622.8,228.4 L623.9,229.3 L625.0,230.3 L626.1,231.3 L627.3,232.3 L628.4,233.3 L629.5,234.3 L630.7,235.3 L631.8,236.3 L632.9,237.3 L634.0,238.2 L635.2,239.2 L636.3,240.2 L637.5,241.2 L638.6,242.2 L639.7,243.2 L640.9,244.1 L642.0,245.1 L643.1,246.1 L644.3,247.1 L645.4,248.0 L646.6,249.0 L647.7,250.0 L648.8,251.0 L650.0,251.9 L651.1,252.9 L652.3,253.9 L653.4,254.9 L654.6,255.8 L655.7,256.8 L656.9,257.8 L658.0,258.7 L659.1,259.7 L660.3,260.7 L661.4,261.6 L662.6,262.6 L663.7,263.6 L664.9,264.5 L666.0,265.5 L667.2,266.5 L668.3,267.4 L669.5,268.4 L670.6,269.4 L671.8,270.3 L672.9,271.3 L674.1,272.3 L675.2,273.2 L676.4,274.2 L677.5,275.2 L678.3,275.8" fill="none" stroke="#77AC30" stroke-width="1.3" stroke-opacity="0.55" stroke-linejoin="round"/><path d="M96.0,350.0 L114.9,260.0 L130.4,185.0M130.4,185.0 L130.6,183.5 L130.7,182.0 L130.9,180.5 L131.1,179.0 L131.3,177.6 L131.6,176.1 L131.8,174.6 L132.1,173.1 L132.4,171.6 L132.7,170.2 L133.0,168.7 L133.3,167.2 L133.7,165.8 L134.1,164.3 L134.5,162.9 L135.0,161.2 L135.7,159.6 L136.5,158.1 L137.6,156.7 L138.9,155.5 L140.3,154.6 L141.9,153.9 L143.6,153.6 L145.4,153.5 L147.1,153.5 L148.9,153.7 L150.6,154.1 L152.0,154.4 L153.5,154.9 L154.9,155.3 L156.3,155.8 L157.9,156.5 L159.5,157.2 L160.8,157.9 L162.1,158.7 L163.4,159.4 L164.7,160.2 L166.0,161.0 L167.3,161.8 L168.5,162.6 L169.8,163.4 L171.1,164.1 L172.4,164.9 L173.7,165.6 L175.0,166.4 L176.3,167.1 L177.6,167.9 L178.9,168.7 L180.2,169.4 L181.5,170.2 L182.8,170.9 L184.1,171.7 L185.4,172.4 L186.7,173.2 L188.0,174.0 L189.3,174.7 L190.5,175.5 L191.8,176.3 L193.1,177.0 L194.4,177.8 L195.7,178.6 L197.0,179.4 L198.3,180.2 L199.5,181.0 L200.8,181.8 L202.1,182.6 L203.3,183.4 L204.6,184.2 L205.8,185.1 L207.1,185.9 L208.3,186.7 L209.5,187.6 L210.8,188.4 L212.0,189.3 L213.3,190.1 L214.5,190.9 L215.8,191.8 L217.0,192.6 L218.3,193.4 L219.5,194.2 L220.8,195.0 L222.1,195.8 L223.4,196.6 L224.7,197.3 L226.0,198.1 L227.3,198.8 L228.6,199.5 L230.0,200.2 L231.3,200.9 L232.6,201.6 L234.0,202.2 L235.3,202.9 L236.7,203.5 L238.1,204.1 L239.7,204.7 L241.4,205.1 L243.1,205.5 L244.9,205.6 L246.6,205.6 L248.3,205.5 L250.1,205.2 L251.8,204.8 L253.5,204.3 L254.9,203.8 L256.3,203.3 L257.6,202.7 L259.2,201.9 L260.7,201.1 L262.2,200.1 L263.5,199.0 L264.8,197.7 L265.8,196.6 L266.8,195.5 L267.8,194.4 L268.7,193.2 L269.7,192.1 L270.7,191.0 L271.7,189.9 L272.7,188.7 L273.7,187.6 L274.7,186.5 L275.6,185.3 L276.6,184.2 L277.6,183.0 L278.6,181.9 L279.5,180.7 L280.5,179.6 L281.5,178.5 L282.5,177.3 L283.4,176.2 L284.4,175.0 L285.4,173.9 L286.4,172.8 L287.4,171.7 L288.7,170.5 L290.0,169.3 L291.2,168.4 L292.4,167.5 L293.6,166.7 L295.1,165.8 L296.7,165.0 L298.3,164.3 L299.7,163.7 L301.1,163.2 L302.8,162.7 L304.5,162.2 L306.2,162.1 L307.9,162.1 L309.7,162.3 L311.2,162.5 L312.6,162.7 L314.1,162.9 L315.6,163.1 L317.1,163.3 L318.6,163.5 L320.1,163.6 L321.6,163.8 L323.1,163.9 L324.6,164.0 L326.1,164.1 L327.6,164.2 L329.1,164.3 L330.6,164.4 L332.1,164.4 L333.6,164.4 L335.1,164.4 L336.6,164.5 L338.1,164.5 L339.6,164.5 L341.1,164.6 L342.8,164.7 L344.5,165.0 L346.2,165.4 L347.9,166.0 L349.3,166.5 L350.7,167.1 L352.0,167.7 L353.4,168.4 L355.0,169.2 L356.3,169.9 L357.5,170.7 L358.8,171.5 L360.0,172.3 L361.3,173.2 L362.5,174.1 L363.6,175.0 L364.8,176.0 L366.0,177.0 L367.1,177.9 L368.2,178.9 L369.3,179.9 L370.5,180.9 L371.6,181.9 L372.7,182.9 L373.8,183.9 L375.0,184.9 L376.1,185.9 L377.2,186.9 L378.3,188.0 L379.4,189.0 L380.5,190.0 L381.6,191.0 L382.7,192.1 L383.8,193.1 L384.9,194.1 L386.0,195.1 L387.0,196.2 L388.1,197.2 L389.1,198.3 L390.2,199.3 L391.3,200.4 L392.7,201.5 L394.1,202.5 L395.6,203.4 L396.9,204.2 L398.2,204.9 L399.5,205.5 L400.9,206.1 L402.3,206.7 L403.7,207.2 L405.4,207.7 L407.1,208.1 L408.6,208.3 L410.1,208.6 L411.6,208.7 L413.1,208.9 L414.5,209.0 L416.0,209.2 L417.5,209.3 L419.0,209.4 L420.5,209.5 L422.0,209.7 L423.5,209.9 L425.0,210.1 L426.5,210.3 L428.0,210.5 L429.4,210.8 L430.9,211.1 L432.4,211.4 L433.8,211.8 L435.3,212.1 L436.8,212.5 L438.2,212.9 L439.6,213.3 L441.1,213.8 L442.5,214.3 L444.1,215.0 L445.6,215.8 L447.1,216.7 L448.6,217.7 L449.8,218.6 L450.9,219.5 L452.1,220.5 L453.2,221.5 L454.4,222.4 L455.5,223.4 L456.7,224.3 L457.9,225.3 L459.1,226.2 L460.3,227.1 L461.4,228.0 L462.6,229.0 L463.8,229.9 L465.0,230.8 L466.1,231.8 L467.3,232.7 L468.5,233.7 L469.6,234.6 L470.8,235.6 L471.9,236.6 L473.1,237.5 L474.2,238.5 L475.3,239.5 L476.5,240.5 L477.6,241.5 L478.7,242.5 L479.8,243.5 L480.9,244.5 L482.0,245.6 L483.0,246.6 L484.1,247.7 L485.1,248.8 L486.2,249.9 L487.2,251.0 L488.2,252.1 L489.2,253.2 L490.2,254.3 L491.2,255.4 L492.2,256.5 L493.2,257.6 L494.2,258.8 L495.2,259.9 L496.2,261.0 L497.3,262.1 L498.3,263.2 L499.3,264.3 L500.3,265.4 L501.3,266.5 L502.3,267.6 L503.3,268.7 L504.4,269.8 L505.4,270.9 L506.4,272.1 L507.4,273.2 L508.4,274.3 L509.4,275.4 L510.4,276.5 L511.4,277.6 L512.4,278.7 L513.4,279.8 L514.4,281.0 L515.4,282.1 L516.4,283.2 L517.5,284.3 L518.5,285.4 L519.5,286.5 L520.5,287.7 L521.5,288.8 L522.5,289.9 L523.5,291.0 L524.5,292.1 L525.5,293.3 L526.5,294.4 L527.5,295.5 L528.5,296.6 L529.5,297.7 L530.5,298.8 L531.5,300.0 L532.5,301.1 L533.5,302.2 L534.5,303.3 L535.5,304.4 L536.5,305.6 L537.5,306.7 L538.5,307.8 L539.5,308.9 L540.5,310.0 L541.5,311.2 L542.5,312.3 L543.5,313.4 L544.5,314.5 L545.5,315.6 L546.5,316.8 L547.5,317.9 L548.4,319.0 L549.4,320.1 L550.4,321.3 L551.4,322.4 L552.4,323.5 L553.4,324.6 L554.4,325.7 L555.4,326.9 L556.4,328.0 L557.4,329.1 L558.4,330.2 L559.4,331.4 L560.4,332.5 L561.4,333.6 L562.4,334.7 L563.4,335.9 L564.4,337.0 L565.4,338.1 L566.4,339.2 L567.4,340.3 L568.4,341.5 L569.4,342.6 L570.4,343.7 L571.4,344.8 L572.4,346.0 L573.4,347.1 L574.4,348.2 L575.4,349.3 L576.4,350.4 L577.4,351.6 L578.4,352.7 L579.4,353.8 L580.4,354.9 L581.4,356.0 L582.4,357.2 L583.4,358.3 L584.4,359.4 L585.4,360.5 L586.4,361.6 L587.4,362.8 L588.4,363.9 L589.3,365.0 L590.3,366.1 L591.3,367.2 L592.3,368.4 L593.3,369.5 L594.3,370.6 L595.3,371.7 L596.3,372.8 L597.3,374.0 L598.3,375.1 L599.3,376.2 L600.3,377.3 L601.3,378.5 L602.3,379.6 L603.3,380.7 L604.3,381.8 L605.3,383.0 L606.3,384.1 L607.3,385.2 L608.2,386.4 L609.2,387.5 L610.2,388.6 L611.2,389.8 L612.2,390.9 L613.2,392.0 L614.1,393.2 L615.1,394.3 L616.1,395.4 L617.1,396.6 L618.0,397.7 L619.0,398.9 L620.0,400.0 L621.0,401.2 L621.9,402.3 L622.9,403.5 L623.8,404.6 L624.8,405.8 L625.7,406.9 L626.7,408.1 L627.6,409.3 L628.5,410.5 L628.5,410.5M628.5,410.2 L629.0,410.2" fill="none" stroke="#4DBEEE" stroke-width="1.3" stroke-opacity="0.55" stroke-linejoin="round"/><path d="M339.3,410.2 L339.3,300.0M339.3,300.0 L339.3,298.5 L339.3,297.0 L339.3,295.5 L339.3,294.0 L339.4,292.5 L339.5,291.0 L339.7,289.5 L339.8,288.0 L340.0,286.5 L340.3,285.0 L340.6,283.6 L341.0,281.9 L341.5,280.2 L342.3,278.7 L343.3,277.3 L344.6,276.1 L346.1,275.2 L347.7,274.6 L349.4,274.1 L351.1,273.8 L352.9,273.7 L354.6,273.7 L356.4,273.9 L357.8,274.1 L359.3,274.4 L360.8,274.7 L362.2,275.0 L363.7,275.3 L365.2,275.6 L366.6,276.0 L368.1,276.3 L369.6,276.6 L371.0,277.0 L372.5,277.3 L374.0,277.6 L375.4,278.0 L376.9,278.4 L378.3,278.8 L379.8,279.1 L381.2,279.5 L382.7,279.9 L384.1,280.3 L385.6,280.7 L387.0,281.1 L388.5,281.4 L389.9,281.8 L391.4,282.1 L393.1,282.4 L394.9,282.4 L396.5,281.9 L398.0,281.0 L399.2,279.8 L400.4,278.5 L401.3,277.3 L402.1,276.1 L403.1,274.6 L403.9,273.0 L404.6,271.5 L405.2,270.1 L405.8,268.7 L406.3,267.3 L406.9,265.9 L407.4,264.5 L408.0,263.1 L408.6,261.7 L409.2,260.3 L409.8,259.0 L410.4,257.6 L411.0,256.2 L411.5,254.8 L412.1,253.4 L412.7,252.1 L413.3,250.7 L413.9,249.3 L414.4,247.9 L415.0,246.5 L415.6,245.2 L416.2,243.8 L416.9,242.4 L417.5,241.0 L418.1,239.7 L418.8,238.4 L419.5,237.0 L420.2,235.7 L421.0,234.4 L421.8,233.2 L422.7,231.9 L423.6,230.7 L424.5,229.6 L425.5,228.4 L426.5,227.3 L427.5,226.2 L428.6,225.1 L429.9,224.0 L431.2,222.9 L432.6,221.8 L434.1,220.9 L435.4,220.1 L436.7,219.4 L438.1,218.7 L439.4,218.1 L440.8,217.4 L442.1,216.8 L443.5,216.3 L444.9,215.8 L446.6,215.2 L448.3,214.8 L450.0,214.5 L451.8,214.4 L453.5,214.4 L455.3,214.6 L457.0,214.8 L458.7,215.2 L460.2,215.5 L461.6,215.9 L463.1,216.3 L464.5,216.8 L465.9,217.2 L467.3,217.8 L468.7,218.3 L470.1,218.9 L471.5,219.5 L472.8,220.2 L474.2,220.8 L475.5,221.5 L476.9,222.2 L478.2,222.9 L479.5,223.6 L480.8,224.3 L482.1,225.0 L483.4,225.8 L484.7,226.6 L486.0,227.4 L487.2,228.2 L488.5,229.1 L489.7,229.9 L490.9,230.8 L492.1,231.6 L493.4,232.5 L494.6,233.4 L495.8,234.3 L497.0,235.2 L498.2,236.0 L499.4,236.9 L500.7,237.8 L501.9,238.6 L503.1,239.5 L504.3,240.4 L505.6,241.3 L506.8,242.2 L508.0,243.0 L509.2,243.9 L510.4,244.8 L511.6,245.7 L512.8,246.6 L514.0,247.5 L515.2,248.4 L516.4,249.3 L517.6,250.2 L518.8,251.1 L520.0,252.0 L521.2,252.9 L522.4,253.8 L523.6,254.7 L524.8,255.6 L526.0,256.5 L527.2,257.4 L528.4,258.3 L529.6,259.2 L530.8,260.1 L532.0,261.0 L533.2,261.9 L534.4,262.8 L535.6,263.7 L536.8,264.6 L538.0,265.5 L539.2,266.4 L540.4,267.3 L541.6,268.2 L542.8,269.1 L544.0,270.1 L545.2,271.0 L546.4,271.9 L547.6,272.8 L548.8,273.7 L550.0,274.6 L551.2,275.5 L552.4,276.4 L553.6,277.3 L554.8,278.2 L556.0,279.1 L557.2,280.0 L558.3,280.9 L559.5,281.8 L560.7,282.8 L561.9,283.7 L563.1,284.6 L564.3,285.5 L565.5,286.4 L566.7,287.3 L567.9,288.2 L569.1,289.1 L570.3,290.0 L571.6,290.9 L572.8,291.7 L574.0,292.6 L575.2,293.5 L576.4,294.4 L577.6,295.3 L578.8,296.2 L580.0,297.1 L581.2,298.0 L582.4,298.9 L583.6,299.8 L584.8,300.6 L586.1,301.5 L587.3,302.4 L588.5,303.3 L589.7,304.2 L590.9,305.1 L592.1,306.0 L593.3,306.8 L594.5,307.7 L595.8,308.6 L597.0,309.5 L598.2,310.4 L599.4,311.3 L600.6,312.2 L601.8,313.0 L603.0,313.9 L604.2,314.8 L605.4,315.7 L606.7,316.6 L607.9,317.5 L609.1,318.4 L610.3,319.3 L611.5,320.2 L612.7,321.0 L613.9,321.9 L615.1,322.8 L616.3,323.7 L617.5,324.6 L618.7,325.5 L619.9,326.4 L621.1,327.3 L622.3,328.2 L623.5,329.1 L624.7,330.0 L625.9,331.0 L627.1,331.9 L628.3,332.8 L629.5,333.7 L630.7,334.6 L631.9,335.5 L633.1,336.4 L634.3,337.3 L635.4,338.2 L636.6,339.2 L637.8,340.1 L639.0,341.0 L640.2,341.9 L641.4,342.8 L642.6,343.7 L643.8,344.6 L645.0,345.5 L646.2,346.4 L647.4,347.4 L648.6,348.3 L649.8,349.2 L651.0,350.1 L652.2,351.0 L653.4,351.9 L654.6,352.8 L655.8,353.7 L657.0,354.6 L658.2,355.5 L659.4,356.3 L660.6,357.2 L661.8,358.1 L663.0,359.0 L664.3,359.8 L665.5,360.7 L666.7,361.6 L668.0,362.4 L669.2,363.3 L670.4,364.1 L671.7,365.0 L672.9,365.8 L674.2,366.6 L675.4,367.4 L676.7,368.2 L678.0,369.0 L678.0,369.0" fill="none" stroke="#A2142F" stroke-width="1.3" stroke-opacity="0.55" stroke-linejoin="round"/><path d="M95.5,394.5 L339.2,394.5 L339.2,250.0M339.2,250.0 L339.3,248.3 L339.5,246.5 L339.8,244.8 L340.4,243.2 L341.4,241.8 L342.8,240.9 L344.5,240.4 L346.2,240.2 L347.9,240.0 L349.7,240.0 L351.4,240.2 L352.9,240.3 L354.4,240.5 L355.9,240.8 L357.4,241.1 L358.8,241.3 L360.3,241.6 L361.8,241.9 L363.3,242.2 L364.7,242.6 L366.2,242.9 L367.7,243.2 L369.1,243.5 L370.6,243.9 L372.0,244.2 L373.5,244.6 L374.9,245.1 L376.3,245.6 L377.7,246.1 L379.1,246.6 L380.6,247.1 L382.0,247.6 L383.4,248.1 L385.1,248.5 L386.8,248.8 L388.5,248.5 L389.9,247.5 L391.0,246.2 L391.9,244.7 L392.6,243.4 L393.3,242.1 L393.9,240.7 L394.6,239.4 L395.2,238.0 L395.9,236.7 L396.7,235.4 L397.4,234.1 L398.2,232.8 L398.9,231.5 L399.7,230.2 L400.4,228.9 L401.1,227.5 L401.8,226.2 L402.5,224.9 L403.2,223.6 L404.0,222.3 L404.7,220.9 L405.4,219.6 L406.2,218.3 L406.9,217.0 L407.7,215.7 L408.4,214.4 L409.2,213.1 L409.9,211.8 L410.7,210.6 L411.5,209.3 L412.3,208.0 L413.1,206.7 L413.9,205.4 L414.7,204.2 L415.5,202.9 L416.3,201.7 L417.2,200.4 L418.0,199.2 L418.9,198.0 L419.8,196.8 L420.7,195.5 L421.6,194.3 L422.5,193.1 L423.4,191.9 L424.3,190.8 L425.3,189.6 L426.3,188.5 L427.4,187.5 L428.7,186.3 L430.1,185.2 L431.5,184.3 L432.8,183.5 L434.1,182.8 L435.5,182.2 L436.9,181.6 L438.3,181.1 L439.9,180.5 L441.6,180.1 L443.4,179.8 L444.9,179.7 L446.6,179.6 L448.4,179.6 L450.1,179.8 L451.8,180.1 L453.5,180.5 L455.0,180.9 L456.4,181.3 L457.8,181.8 L459.2,182.4 L460.6,182.9 L462.0,183.4 L463.4,184.0 L464.8,184.5 L466.2,185.1 L467.6,185.7 L469.0,186.2 L470.4,186.8 L471.8,187.4 L473.2,188.0 L474.5,188.6 L475.9,189.2 L477.3,189.8 L478.6,190.4 L480.0,191.0 L481.4,191.7 L482.7,192.3 L484.1,193.0 L485.4,193.6 L486.7,194.3 L488.1,195.0 L489.4,195.8 L490.7,196.5 L492.0,197.2 L493.3,198.0 L494.6,198.8 L495.8,199.6 L497.1,200.4 L498.4,201.2 L499.7,202.0 L500.9,202.8 L502.2,203.6 L503.5,204.4 L504.8,205.1 L506.0,205.9 L507.3,206.7 L508.6,207.5 L509.9,208.3 L511.1,209.1 L512.4,209.9 L513.6,210.8 L514.9,211.6 L516.1,212.4 L517.4,213.3 L518.6,214.1 L519.9,215.0 L521.1,215.8 L522.3,216.7 L523.5,217.6 L524.7,218.6 L525.9,219.5 L527.0,220.4 L528.2,221.4 L529.3,222.3 L530.5,223.3 L531.6,224.3 L532.8,225.3 L533.9,226.2 L535.0,227.2 L536.2,228.2 L537.3,229.2 L538.5,230.2 L539.6,231.1 L540.7,232.1 L541.9,233.1 L543.0,234.0 L544.2,235.0 L545.4,236.0 L546.5,236.9 L547.7,237.9 L548.8,238.8 L550.0,239.7 L551.2,240.7 L552.4,241.6 L553.5,242.5 L554.7,243.5 L555.9,244.4 L557.1,245.3 L558.3,246.2 L559.5,247.2 L560.6,248.1 L561.8,249.0 L563.0,249.9 L564.2,250.8 L565.4,251.7 L566.6,252.7 L567.8,253.6 L569.0,254.5 L570.2,255.4 L571.4,256.3 L572.6,257.2 L573.7,258.1 L574.9,259.0 L576.1,260.0 L577.3,260.9 L578.5,261.8 L579.7,262.7 L580.9,263.6 L582.1,264.5 L583.3,265.4 L584.5,266.3 L585.7,267.2 L586.9,268.1 L588.1,269.0 L589.3,269.9 L590.5,270.8 L591.7,271.7 L592.9,272.6 L594.1,273.5 L595.3,274.4 L596.5,275.3 L597.7,276.2 L598.9,277.1 L600.1,278.0 L601.3,278.9 L602.5,279.8 L603.7,280.7 L604.9,281.6 L606.1,282.5 L607.3,283.4 L608.5,284.3 L609.7,285.2 L610.9,286.2 L612.1,287.1 L613.3,288.0 L614.5,288.9 L615.7,289.8 L616.9,290.7 L618.1,291.6 L619.3,292.5 L620.5,293.4 L621.7,294.3 L622.9,295.2 L624.1,296.1 L625.3,297.0 L626.5,297.9 L627.7,298.8 L628.9,299.7 L630.1,300.6 L631.3,301.5 L632.5,302.4 L633.7,303.3 L634.9,304.2 L636.1,305.1 L637.3,306.0 L638.5,306.9 L639.7,307.8 L640.9,308.7 L642.1,309.6 L643.3,310.5 L644.5,311.4 L645.7,312.3 L646.9,313.2 L648.1,314.1 L649.3,315.0 L650.5,315.9 L651.7,316.8 L652.9,317.7 L654.1,318.6 L655.3,319.5 L656.5,320.4 L657.7,321.3 L658.9,322.2 L660.1,323.1 L661.3,324.0 L662.5,324.9 L663.7,325.8 L664.9,326.7 L666.1,327.6 L667.3,328.5 L668.5,329.4 L669.8,330.3 L671.0,331.2 L672.2,332.1 L673.4,333.0 L674.6,333.9 L675.8,334.8 L677.0,335.7 L678.0,336.4" fill="none" stroke="#0072BD" stroke-width="1.3" stroke-opacity="0.55" stroke-linejoin="round"/><path d="M95.5,410.2H339.3" stroke="#DB7B89" stroke-width="1.3" fill="none"/><path d="M628.5,410.2H678.5" stroke="#9AD8F4" stroke-width="1.3" fill="none"/></g><text x="95.34" y="87.00" font-size="13.7" fill="#D95319" textLength="53.31" lengthAdjust="spacingAndGlyphs">Variant 1</text><text x="94.46" y="102.70" font-size="13.7" fill="#D95319" textLength="61.70" lengthAdjust="spacingAndGlyphs">k11= 0.39</text><path d="M99.50,106.07V117.99M96.08,115.25L99.50,118.67L102.92,115.25" fill="none" stroke="#D95319" stroke-width="1.16" stroke-linecap="butt" stroke-linejoin="miter"/><text x="106.63" y="118.30" font-size="13.7" fill="#D95319" textLength="18.23" lengthAdjust="spacingAndGlyphs">D0</text><text x="213.04" y="87.00" font-size="13.7" fill="#D95319" textLength="54.14" lengthAdjust="spacingAndGlyphs">Variant 2</text><text x="198.07" y="102.60" font-size="13.7" fill="#D95319" textLength="69.04" lengthAdjust="spacingAndGlyphs">k11= 0.663</text><text x="221.36" y="118.20" font-size="13.7" fill="#D95319" textLength="33.33" lengthAdjust="spacingAndGlyphs">D235</text><path d="M263.06,106.07V117.99M259.63,115.25L263.06,118.67L266.48,115.25" fill="none" stroke="#D95319" stroke-width="1.16" stroke-linecap="butt" stroke-linejoin="miter"/><text x="285.04" y="87.00" font-size="13.7" fill="#D95319" textLength="54.46" lengthAdjust="spacingAndGlyphs">Variant 3</text><text x="278.37" y="102.60" font-size="13.7" fill="#D95319" textLength="61.13" lengthAdjust="spacingAndGlyphs">k11= 0.78</text><text x="294.16" y="118.20" font-size="13.7" fill="#D95319" textLength="33.22" lengthAdjust="spacingAndGlyphs">D335</text><path d="M335.93,106.07V117.99M332.51,115.25L335.93,118.67L339.36,115.25" fill="none" stroke="#D95319" stroke-width="1.16" stroke-linecap="butt" stroke-linejoin="miter"/><text x="608.60" y="89.20" font-size="13.8" fill="#0072BD" textLength="68.32" lengthAdjust="spacingAndGlyphs">Uninfected</text><text x="618.28" y="105.60" font-size="13.8" fill="#0072BD" textLength="59.37" lengthAdjust="spacingAndGlyphs">15164401</text><text x="634.38" y="122.70" font-size="13.8" fill="#000" textLength="43.11" lengthAdjust="spacingAndGlyphs">Deaths</text><text x="633.12" y="138.60" font-size="13.8" fill="#000" textLength="44.27" lengthAdjust="spacingAndGlyphs">789534</text><text x="679.45" y="265.00" font-size="13.7" fill="#77AC30" textLength="54.46" lengthAdjust="spacingAndGlyphs">v2 active</text><text x="679.30" y="280.40" font-size="13.7" fill="#77AC30" text-anchor="start" >1</text><text x="620.37" y="310.00" font-size="13.7" fill="#EDB120" textLength="77.48" lengthAdjust="spacingAndGlyphs">Serious v2 0</text><text x="679.45" y="318.90" font-size="13.7" fill="#D95319" textLength="54.46" lengthAdjust="spacingAndGlyphs">v3 active</text><text x="689.50" y="334.00" font-size="13.7" fill="#D95319" text-anchor="start" >0</text><text x="602.10" y="377.30" font-size="13.7" fill="#0072BD" text-anchor="start" >Serious v3 0</text><text x="612.90" y="399.30" font-size="13.7" fill="#A2142F" text-anchor="start" >v1 active 0</text><text x="584.07" y="422.80" font-size="13.7" fill="#A2142F" textLength="77.48" lengthAdjust="spacingAndGlyphs">Serious v1 0</text><text x="679.13" y="408.00" font-size="9.2" fill="#000" textLength="64.69" lengthAdjust="spacingAndGlyphs">Model end date</text><path d="M683.20,411.22V419.22M680.90,417.38L683.20,419.68L685.50,417.38" fill="none" stroke="#000" stroke-width="0.78" stroke-linecap="butt" stroke-linejoin="miter"/><text x="688.50" y="419.50" font-size="9.2" fill="#000" text-anchor="start" >12 Apr 22, Day</text><text x="368.04" y="394.70" font-size="9.2" fill="#000" textLength="61.08" lengthAdjust="spacingAndGlyphs">Reporting date</text><path d="M371.48,397.32V405.32M369.18,403.48L371.48,405.78L373.78,403.48" fill="none" stroke="#000" stroke-width="0.78" stroke-linecap="butt" stroke-linejoin="miter"/><text x="376.59" y="405.60" font-size="9.2" fill="#000" textLength="68.49" lengthAdjust="spacingAndGlyphs">10 Feb, Day 375</text><text x="483.64" y="177.50" font-size="5.6" fill="#000" textLength="43.07" lengthAdjust="spacingAndGlyphs">No immunity loss</text><text x="483.63" y="229.30" font-size="5.6" fill="#000" textLength="71.11" lengthAdjust="spacingAndGlyphs">No Vaccinated infectivity set</text><path d="M135.70,281.94V275.85M133.95,277.25L135.70,275.50L137.45,277.25" fill="none" stroke="#262626" stroke-width="0.75" stroke-linecap="butt" stroke-linejoin="miter"/><text x="139.70" y="281.80" font-size="7" fill="#262626" text-anchor="start" >Day 52, 23 Mar Lock= +84.3%</text><path d="M174.32,284.12V290.21M172.57,288.81L174.32,290.56L176.07,288.81" fill="none" stroke="#262626" stroke-width="0.75" stroke-linecap="butt" stroke-linejoin="miter"/><text x="178.32" y="290.42" font-size="7" fill="#262626" text-anchor="start" >Day 105, 15 May Ease= -0.3%</text><path d="M186.71,299.18V293.09M184.96,294.49L186.71,292.74L188.46,294.49" fill="none" stroke="#262626" stroke-width="0.75" stroke-linecap="butt" stroke-linejoin="miter"/><text x="190.71" y="299.04" font-size="7" fill="#262626" text-anchor="start" >Day 122, 01 Jun Lock= 0%</text><path d="M196.91,307.80V301.71M195.16,303.11L196.91,301.36L198.66,303.11" fill="none" stroke="#262626" stroke-width="0.75" stroke-linecap="butt" stroke-linejoin="miter"/><text x="200.91" y="307.66" font-size="7" fill="#262626" text-anchor="start" >Day 136, 15 Jun Lock= 0%</text><path d="M210.76,309.98V316.07M209.01,314.67L210.76,316.42L212.51,314.67" fill="none" stroke="#262626" stroke-width="0.75" stroke-linecap="butt" stroke-linejoin="miter"/><text x="214.76" y="316.28" font-size="7" fill="#262626" text-anchor="start" >Day 155, 04 Jul Ease= -4%</text><path d="M233.35,318.60V324.69M231.60,323.29L233.35,325.04L235.10,323.29" fill="none" stroke="#262626" stroke-width="0.75" stroke-linecap="butt" stroke-linejoin="miter"/><text x="237.35" y="324.90" font-size="7" fill="#262626" text-anchor="start" >Day 186, 04 Aug Ease= -6%</text><path d="M241.36,327.22V333.31M239.61,331.91L241.36,333.66L243.11,331.91" fill="none" stroke="#262626" stroke-width="0.75" stroke-linecap="butt" stroke-linejoin="miter"/><text x="245.36" y="333.52" font-size="7" fill="#262626" text-anchor="start" >Day 197, 15 Aug Ease= -8%</text><path d="M253.75,335.84V341.93M252.00,340.53L253.75,342.28L255.50,340.53" fill="none" stroke="#262626" stroke-width="0.75" stroke-linecap="butt" stroke-linejoin="miter"/><text x="257.75" y="342.14" font-size="7" fill="#262626" text-anchor="start" >Day 214, 01 Sep Ease= -10%</text><path d="M263.23,344.46V350.55M261.48,349.15L263.23,350.90L264.98,349.15" fill="none" stroke="#262626" stroke-width="0.75" stroke-linecap="butt" stroke-linejoin="miter"/><text x="267.23" y="350.76" font-size="7" fill="#262626" text-anchor="start" >Day 227, 14 Sep Ease= -1.5%</text><path d="M270.51,353.08V359.17M268.76,357.77L270.51,359.52L272.26,357.77" fill="none" stroke="#262626" stroke-width="0.75" stroke-linecap="butt" stroke-linejoin="miter"/><text x="274.51" y="359.38" font-size="7" fill="#262626" text-anchor="start" >Day 237, 24 Sep Ease= -1%</text><path d="M278.53,368.14V362.05M276.78,363.45L278.53,361.70L280.28,363.45" fill="none" stroke="#262626" stroke-width="0.75" stroke-linecap="butt" stroke-linejoin="miter"/><text x="282.53" y="368.00" font-size="7" fill="#262626" text-anchor="start" >Day 248, 05 Oct Lock= +5%</text><path d="M288.73,376.76V370.67M286.98,372.07L288.73,370.32L290.48,372.07" fill="none" stroke="#262626" stroke-width="0.75" stroke-linecap="butt" stroke-linejoin="miter"/><text x="292.73" y="376.62" font-size="7" fill="#262626" text-anchor="start" >Day 262, 19 Oct Lock= +7%</text><path d="M294.56,385.38V379.29M292.81,380.69L294.56,378.94L296.31,380.69" fill="none" stroke="#262626" stroke-width="0.75" stroke-linecap="butt" stroke-linejoin="miter"/><text x="298.56" y="385.24" font-size="7" fill="#262626" text-anchor="start" >Day 270, 27 Oct Lock= +6%</text><path d="M301.85,281.94V275.85M300.10,277.25L301.85,275.50L303.60,277.25" fill="none" stroke="#262626" stroke-width="0.75" stroke-linecap="butt" stroke-linejoin="miter"/><text x="305.85" y="281.80" font-size="7" fill="#262626" text-anchor="start" >Day 280, 06 Nov Lock= +6%</text><path d="M320.80,284.12V290.21M319.05,288.81L320.80,290.56L322.55,288.81" fill="none" stroke="#262626" stroke-width="0.75" stroke-linecap="butt" stroke-linejoin="miter"/><text x="324.80" y="290.42" font-size="7" fill="#262626" text-anchor="start" >Day 306, 02 Dec Ease= -9%</text><path d="M331.00,299.18V293.09M329.25,294.49L331.00,292.74L332.75,294.49" fill="none" stroke="#262626" stroke-width="0.75" stroke-linecap="butt" stroke-linejoin="miter"/><text x="335.00" y="299.04" font-size="7" fill="#262626" text-anchor="start" >Day 320, 16 Dec Lock= +10%</text><path d="M333.19,301.36V307.45M331.44,306.05L333.19,307.80L334.94,306.05" fill="none" stroke="#262626" stroke-width="0.75" stroke-linecap="butt" stroke-linejoin="miter"/><text x="337.19" y="307.66" font-size="7" fill="#262626" text-anchor="start" >Day 323, 19 Dec Ease= -0%</text><path d="M336.10,309.98V316.07M334.35,314.67L336.10,316.42L337.85,314.67" fill="none" stroke="#262626" stroke-width="0.75" stroke-linecap="butt" stroke-linejoin="miter"/><text x="340.10" y="316.28" font-size="7" fill="#262626" text-anchor="start" >Day 327, 23 Dec Ease= -10%</text><path d="M339.75,325.04V318.95M338.00,320.35L339.75,318.60L341.50,320.35" fill="none" stroke="#262626" stroke-width="0.75" stroke-linecap="butt" stroke-linejoin="miter"/><text x="343.75" y="324.90" font-size="7" fill="#262626" text-anchor="start" >Day 332, 28 Dec Lock= +5%</text><path d="M341.93,327.22V333.31M340.18,331.91L341.93,333.66L343.68,331.91" fill="none" stroke="#262626" stroke-width="0.75" stroke-linecap="butt" stroke-linejoin="miter"/><text x="345.93" y="333.52" font-size="7" fill="#262626" text-anchor="start" >Day 335, 31 Dec Ease= -5%</text><path d="M344.12,342.28V336.19M342.37,337.59L344.12,335.84L345.87,337.59" fill="none" stroke="#262626" stroke-width="0.75" stroke-linecap="butt" stroke-linejoin="miter"/><text x="348.12" y="342.14" font-size="7" fill="#262626" text-anchor="start" >Day 338, 03 Jan Lock= +20%</text><path d="M390.03,344.46V350.55M388.28,349.15L390.03,350.90L391.78,349.15" fill="none" stroke="#262626" stroke-width="0.75" stroke-linecap="butt" stroke-linejoin="miter"/><text x="394.03" y="350.76" font-size="7" fill="#262626" text-anchor="start" >Day 401, 07 Mar Ease= -20%</text><path d="M135.50,408.95V402.43M133.62,403.93L135.50,402.05L137.37,403.93" fill="none" stroke="#262626" stroke-width="0.75" stroke-linecap="butt" stroke-linejoin="miter"/><text x="133.40" y="416.80" font-size="7" fill="#262626" text-anchor="start" >52</text><path d="M174.12,402.05V408.57M172.24,407.07L174.12,408.95L175.99,407.07" fill="none" stroke="#262626" stroke-width="0.75" stroke-linecap="butt" stroke-linejoin="miter"/><text x="172.02" y="416.80" font-size="7" fill="#262626" text-anchor="start" >105</text><path d="M186.51,408.95V402.43M184.63,403.93L186.51,402.05L188.38,403.93" fill="none" stroke="#262626" stroke-width="0.75" stroke-linecap="butt" stroke-linejoin="miter"/><text x="184.41" y="416.80" font-size="7" fill="#262626" text-anchor="start" >122</text><path d="M196.71,408.95V402.43M194.84,403.93L196.71,402.05L198.59,403.93" fill="none" stroke="#262626" stroke-width="0.75" stroke-linecap="butt" stroke-linejoin="miter"/><text x="194.61" y="416.80" font-size="7" fill="#262626" text-anchor="start" >136</text><path d="M210.56,402.05V408.57M208.68,407.07L210.56,408.95L212.43,407.07" fill="none" stroke="#262626" stroke-width="0.75" stroke-linecap="butt" stroke-linejoin="miter"/><text x="208.46" y="416.80" font-size="7" fill="#262626" text-anchor="start" >155</text><path d="M233.15,402.05V408.57M231.27,407.07L233.15,408.95L235.02,407.07" fill="none" stroke="#262626" stroke-width="0.75" stroke-linecap="butt" stroke-linejoin="miter"/><text x="231.05" y="416.80" font-size="7" fill="#262626" text-anchor="start" >186</text><path d="M241.16,402.05V408.57M239.29,407.07L241.16,408.95L243.04,407.07" fill="none" stroke="#262626" stroke-width="0.75" stroke-linecap="butt" stroke-linejoin="miter"/><text x="239.06" y="416.80" font-size="7" fill="#262626" text-anchor="start" >197</text><path d="M253.55,402.05V408.57M251.68,407.07L253.55,408.95L255.43,407.07" fill="none" stroke="#262626" stroke-width="0.75" stroke-linecap="butt" stroke-linejoin="miter"/><text x="251.45" y="416.80" font-size="7" fill="#262626" text-anchor="start" >214</text><path d="M263.03,402.05V408.57M261.15,407.07L263.03,408.95L264.90,407.07" fill="none" stroke="#262626" stroke-width="0.75" stroke-linecap="butt" stroke-linejoin="miter"/><text x="260.93" y="416.80" font-size="7" fill="#262626" text-anchor="start" >227</text><path d="M270.31,402.05V408.57M268.44,407.07L270.31,408.95L272.19,407.07" fill="none" stroke="#262626" stroke-width="0.75" stroke-linecap="butt" stroke-linejoin="miter"/><text x="268.21" y="416.80" font-size="7" fill="#262626" text-anchor="start" >237</text><path d="M278.33,408.95V402.43M276.46,403.93L278.33,402.05L280.21,403.93" fill="none" stroke="#262626" stroke-width="0.75" stroke-linecap="butt" stroke-linejoin="miter"/><text x="276.23" y="416.80" font-size="7" fill="#262626" text-anchor="start" >248</text><path d="M288.53,408.95V402.43M286.66,403.93L288.53,402.05L290.41,403.93" fill="none" stroke="#262626" stroke-width="0.75" stroke-linecap="butt" stroke-linejoin="miter"/><text x="286.43" y="416.80" font-size="7" fill="#262626" text-anchor="start" >262</text><path d="M294.36,408.95V402.43M292.49,403.93L294.36,402.05L296.24,403.93" fill="none" stroke="#262626" stroke-width="0.75" stroke-linecap="butt" stroke-linejoin="miter"/><text x="292.26" y="416.80" font-size="7" fill="#262626" text-anchor="start" >270</text><path d="M301.65,408.95V402.43M299.78,403.93L301.65,402.05L303.53,403.93" fill="none" stroke="#262626" stroke-width="0.75" stroke-linecap="butt" stroke-linejoin="miter"/><text x="299.55" y="416.80" font-size="7" fill="#262626" text-anchor="start" >280</text><path d="M320.60,402.05V408.57M318.72,407.07L320.60,408.95L322.47,407.07" fill="none" stroke="#262626" stroke-width="0.75" stroke-linecap="butt" stroke-linejoin="miter"/><text x="318.50" y="416.80" font-size="7" fill="#262626" text-anchor="start" >306</text><path d="M330.80,408.95V402.43M328.93,403.93L330.80,402.05L332.68,403.93" fill="none" stroke="#262626" stroke-width="0.75" stroke-linecap="butt" stroke-linejoin="miter"/><text x="328.70" y="416.80" font-size="7" fill="#262626" text-anchor="start" >320</text><path d="M332.99,402.05V408.57M331.11,407.07L332.99,408.95L334.86,407.07" fill="none" stroke="#262626" stroke-width="0.75" stroke-linecap="butt" stroke-linejoin="miter"/><text x="330.89" y="416.80" font-size="7" fill="#262626" text-anchor="start" >323</text><path d="M335.90,402.05V408.57M334.03,407.07L335.90,408.95L337.78,407.07" fill="none" stroke="#262626" stroke-width="0.75" stroke-linecap="butt" stroke-linejoin="miter"/><text x="333.80" y="416.80" font-size="7" fill="#262626" text-anchor="start" >327</text><path d="M339.55,408.95V402.43M337.67,403.93L339.55,402.05L341.42,403.93" fill="none" stroke="#262626" stroke-width="0.75" stroke-linecap="butt" stroke-linejoin="miter"/><text x="337.44" y="416.80" font-size="7" fill="#262626" text-anchor="start" >332</text><path d="M341.73,402.05V408.57M339.86,407.07L341.73,408.95L343.61,407.07" fill="none" stroke="#262626" stroke-width="0.75" stroke-linecap="butt" stroke-linejoin="miter"/><text x="339.63" y="416.80" font-size="7" fill="#262626" text-anchor="start" >335</text><path d="M343.92,408.95V402.43M342.04,403.93L343.92,402.05L345.79,403.93" fill="none" stroke="#262626" stroke-width="0.75" stroke-linecap="butt" stroke-linejoin="miter"/><text x="341.82" y="416.80" font-size="7" fill="#262626" text-anchor="start" >338</text><path d="M389.83,402.05V408.57M387.95,407.07L389.83,408.95L391.70,407.07" fill="none" stroke="#262626" stroke-width="0.75" stroke-linecap="butt" stroke-linejoin="miter"/><text x="387.73" y="416.80" font-size="7" fill="#262626" text-anchor="start" >401</text><path d="M0,460.5H749M0,475.5H749" stroke="#a0a0a0" stroke-width="1.2" fill="none"/><path d="M-13.8,467.6h31" stroke="#0072BD" stroke-width="1" opacity="0.7" fill="none"/><text x="20.76" y="471.50" font-size="10.5" fill="#262626" textLength="51.94" lengthAdjust="spacingAndGlyphs">Uninfected</text><path d="M87.3,467.6h31" stroke="#D95319" stroke-width="1" opacity="0.7" fill="none"/><text x="122.66" y="471.50" font-size="10.5" fill="#262626" textLength="41.81" lengthAdjust="spacingAndGlyphs">v1 active</text><path d="M188.4,467.6h31" stroke="#EDB120" stroke-width="1" opacity="0.7" fill="none"/><text x="223.46" y="471.50" font-size="10.5" fill="#262626" textLength="50.42" lengthAdjust="spacingAndGlyphs">v2 Serious</text><path d="M289.5,467.6h31" stroke="#7E2F8E" stroke-width="1" opacity="0.7" fill="none"/><text x="323.83" y="471.50" font-size="10.5" fill="#262626" textLength="33.55" lengthAdjust="spacingAndGlyphs">Deaths</text><path d="M390.6,467.6h31" stroke="#77AC30" stroke-width="1" opacity="0.7" fill="none"/><text x="425.66" y="471.50" font-size="10.5" fill="#262626" textLength="41.50" lengthAdjust="spacingAndGlyphs">v2 active</text><path d="M491.7,467.6h31" stroke="#4DBEEE" stroke-width="1" opacity="0.7" fill="none"/><text x="526.66" y="471.50" font-size="10.5" fill="#262626" textLength="49.72" lengthAdjust="spacingAndGlyphs">v1 Serious</text><path d="M592.8,467.6h31" stroke="#A2142F" stroke-width="1" opacity="0.7" fill="none"/><text x="627.96" y="471.50" font-size="10.5" fill="#262626" textLength="49.92" lengthAdjust="spacingAndGlyphs">v3 Serious</text><path d="M693.9,467.6h31" stroke="#0072BD" stroke-width="1" opacity="0.7" fill="none"/><text x="728.40" y="471.50" font-size="10.5" fill="#262626" text-anchor="start" >v3 active</text></svg></body></html>
